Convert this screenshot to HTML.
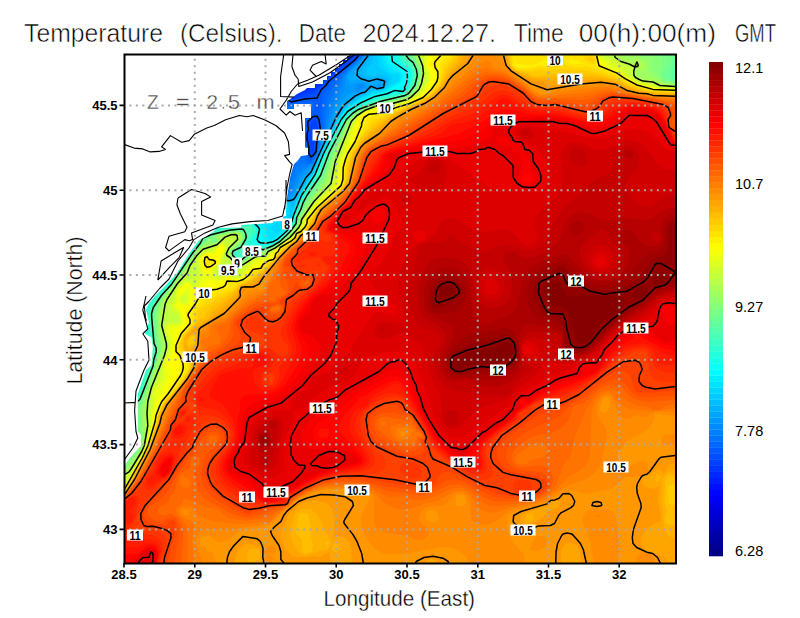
<!DOCTYPE html><html><head><meta charset="utf-8"><style>html,body{margin:0;padding:0;background:#fff;width:800px;height:618px;overflow:hidden}svg{display:block}text{font-family:"Liberation Sans",sans-serif}</style></head><body>
<svg width="800" height="618" viewBox="0 0 800 618">
<rect width="800" height="618" fill="#fff"/>
<defs><clipPath id="mc"><rect x="124" y="54.5" width="552" height="509"/></clipPath></defs>
<g clip-path="url(#mc)">
<rect x="124" y="54" width="552" height="510" fill="#0028ff"/>
<path fill="#0035ff" fill-rule="evenodd" d="M675.0 563.6 125.0 563.6 125.0 55.5 327.0 55.5 325.1 67.5 325.2 69.5 327.4 71.5 327.0 75.6 335.0 69.5 349.0 56.1 351.5 55.5 675.0 55.5 675.0 563.6ZM306.4 89.5 313.0 87.5 318.0 83.5 317.9 81.5 315.0 80.6 311.0 84.1 307.0 85.7 304.4 89.5 306.4 89.5Z"/>
<path fill="#0041ff" fill-rule="evenodd" d="M675.0 563.6 125.0 563.6 125.0 55.5 306.0 55.5 303.0 69.5 290.1 95.5 289.4 97.5 291.0 99.6 297.0 96.2 315.0 89.2 323.0 83.6 325.3 79.5 331.0 75.7 349.0 59.3 355.3 55.5 675.0 55.5 675.0 563.6Z"/>
<path fill="#004eff" fill-rule="evenodd" d="M675.0 563.6 125.0 563.6 125.0 55.5 292.9 55.5 291.7 67.5 287.0 90.8 288.4 99.5 291.0 100.6 315.0 92.4 319.2 87.5 323.0 85.0 326.8 79.5 340.5 69.5 356.5 55.5 675.0 55.5 675.0 563.6ZM313.4 151.5 314.2 143.5 317.6 135.5 317.3 121.5 315.0 120.2 312.3 121.5 310.4 125.5 310.4 131.5 308.5 135.5 308.7 141.5 310.8 145.5 311.0 152.2 313.4 151.5Z"/>
<path fill="#005aff" fill-rule="evenodd" d="M675.0 563.6 125.0 563.6 125.0 55.5 282.1 55.5 281.7 89.5 285.0 97.5 291.0 101.6 317.0 96.3 320.3 89.5 325.0 85.5 327.2 81.5 341.0 71.3 355.0 59.4 358.2 55.5 675.0 55.5 675.0 563.6ZM311.7 155.5 314.9 153.5 315.8 151.5 316.3 143.5 319.7 129.5 318.4 119.5 317.0 117.6 315.0 117.2 309.0 120.6 307.9 123.5 308.7 129.5 307.4 133.5 307.4 141.5 309.0 145.9 309.3 153.5 311.7 155.5Z"/>
<path fill="#0067ff" fill-rule="evenodd" d="M675.0 563.6 125.0 563.6 125.0 55.5 271.8 55.5 273.6 83.5 275.9 91.5 279.5 97.5 283.0 100.2 287.0 100.9 291.0 103.3 309.0 100.9 311.9 101.5 314.4 103.5 314.4 109.5 310.2 113.5 309.9 117.5 307.0 120.8 306.4 123.5 306.0 141.5 307.7 147.5 306.8 151.5 308.1 157.5 311.0 161.7 317.0 152.1 317.9 141.5 322.3 129.5 321.2 123.5 320.9 109.5 322.0 99.5 324.0 93.5 331.1 83.5 338.7 75.5 361.2 55.5 675.0 55.5 675.0 563.6Z"/>
<path fill="#0073ff" fill-rule="evenodd" d="M675.0 563.6 125.0 563.6 125.0 55.5 261.2 55.5 262.0 69.5 264.7 83.5 268.5 93.5 274.2 101.5 281.0 105.5 285.0 105.3 287.0 103.8 289.0 106.7 291.0 107.4 297.0 104.7 309.0 104.2 311.0 105.3 311.0 107.8 307.0 106.6 305.6 107.5 304.4 111.5 304.2 113.5 306.4 117.5 304.5 121.5 303.5 133.5 303.8 143.5 305.1 147.5 303.0 149.1 302.4 151.5 305.2 155.5 305.4 159.5 311.0 163.2 317.1 153.5 319.1 141.5 323.8 129.5 323.7 111.5 327.8 95.5 341.1 75.5 351.0 65.4 362.9 55.5 675.0 55.5 675.0 563.6Z"/>
<path fill="#0080ff" fill-rule="evenodd" d="M675.0 563.6 125.0 563.6 125.0 55.5 249.8 55.5 252.0 75.5 257.9 93.5 266.9 107.5 284.6 125.5 289.1 135.5 290.5 149.5 287.0 179.5 287.0 193.8 289.1 191.5 290.6 181.5 296.9 167.5 303.0 164.1 311.0 164.2 313.0 162.3 317.5 153.5 320.1 141.5 324.9 129.5 326.0 115.5 328.8 103.5 341.9 77.5 348.3 69.5 363.6 55.5 675.0 55.5 675.0 563.6Z"/>
<path fill="#008cff" fill-rule="evenodd" d="M675.0 563.5 125.0 563.6 125.0 55.5 237.0 55.5 239.4 75.5 245.5 93.5 253.1 107.5 270.0 131.5 275.7 143.5 278.7 155.5 282.6 185.5 284.5 193.5 287.0 198.0 291.0 191.5 294.1 181.5 298.1 173.5 303.0 168.4 312.8 163.5 318.0 153.5 320.5 143.5 326.2 129.5 330.7 107.5 341.0 87.5 344.4 75.5 364.3 55.5 675.0 55.5 675.0 563.5Z"/>
<path fill="#0098ff" fill-rule="evenodd" d="M675.0 563.5 125.0 563.6 125.0 55.5 222.2 55.5 224.3 73.5 231.2 93.5 239.9 109.5 263.5 145.5 269.0 157.8 278.7 187.5 284.6 197.5 287.0 199.2 292.0 193.5 300.7 175.5 304.0 171.5 313.0 164.5 318.4 153.5 321.0 144.6 327.5 129.5 333.1 109.5 344.9 89.5 345.6 75.5 365.0 55.5 675.0 55.5 675.0 563.5ZM361.5 89.5 364.1 87.5 365.0 85.1 363.0 83.6 357.0 84.4 355.6 87.5 357.0 91.0 361.5 89.5Z"/>
<path fill="#00a5ff" fill-rule="evenodd" d="M675.0 563.5 125.0 563.6 125.0 55.5 204.1 55.5 205.3 67.5 207.7 77.5 217.5 99.5 227.9 115.5 255.0 152.2 276.5 191.5 282.3 197.5 287.0 199.9 289.0 199.4 293.0 195.5 302.6 177.5 314.2 163.5 328.3 131.5 334.3 113.5 339.0 104.7 349.0 93.5 351.0 92.4 359.0 92.4 364.7 89.5 366.0 87.5 366.3 83.5 365.0 82.6 357.0 82.4 351.0 84.5 349.0 83.0 346.4 77.5 347.0 75.1 359.5 63.5 366.1 55.5 675.0 55.5 675.0 563.5ZM381.0 87.5 383.0 85.0 379.0 84.5 376.6 85.5 376.9 87.5 381.0 87.5Z"/>
<path fill="#00b1ff" fill-rule="evenodd" d="M675.0 563.5 125.0 563.6 125.0 55.5 179.7 55.5 180.8 65.5 184.5 77.5 190.5 89.5 199.7 103.5 212.6 119.5 245.0 155.8 271.2 191.5 277.8 197.5 287.0 200.5 292.2 199.5 294.4 197.5 305.4 177.5 311.0 171.1 328.9 133.5 335.3 117.5 340.9 107.5 351.0 97.4 365.6 91.5 369.9 85.5 370.5 83.5 365.0 80.8 357.0 79.6 351.0 80.2 348.7 77.5 349.0 76.1 353.0 77.8 354.8 73.5 355.1 69.5 361.0 64.2 367.4 55.5 675.0 55.5 675.0 563.5ZM383.3 87.5 384.3 83.5 383.0 81.4 377.0 79.4 372.0 81.5 373.7 87.5 377.0 88.5 383.3 87.5Z"/>
<path fill="#00beff" fill-rule="evenodd" d="M675.0 563.5 125.0 563.6 125.0 72.3 131.0 73.6 139.0 77.7 161.0 95.0 231.0 156.1 271.0 197.3 279.0 201.2 287.0 201.1 293.0 203.0 307.6 177.5 311.4 173.5 317.8 157.5 336.3 119.5 345.0 106.5 355.0 97.9 365.0 93.1 369.0 89.7 371.0 88.8 381.0 89.0 384.3 87.5 387.2 81.5 387.0 79.3 379.0 77.2 367.0 78.1 363.3 75.5 362.3 73.5 363.4 67.5 368.9 59.5 370.4 55.5 675.0 55.5 675.0 563.5Z"/>
<path fill="#00caff" fill-rule="evenodd" d="M675.0 563.5 125.0 563.6 125.0 116.6 137.0 117.8 149.0 120.9 177.0 133.7 201.0 148.1 223.0 163.3 267.0 200.5 277.0 204.4 283.0 203.8 287.0 201.8 289.7 203.5 293.0 208.8 297.9 195.5 312.4 173.5 324.1 145.5 331.1 133.5 337.3 119.5 345.0 108.2 357.0 98.1 371.0 90.8 383.0 89.3 387.9 83.5 388.9 79.5 387.0 76.8 383.0 74.8 379.0 73.7 373.0 75.7 367.0 74.7 367.0 67.5 371.8 63.5 373.6 55.5 675.0 55.5 675.0 563.5Z"/>
<path fill="#00d7ff" fill-rule="evenodd" d="M675.0 563.5 125.0 563.6 125.0 141.4 141.0 142.6 157.0 146.0 175.0 151.8 193.0 159.3 225.0 176.7 263.0 204.6 269.0 207.9 275.0 209.2 279.0 208.9 283.0 207.1 287.0 203.1 289.0 206.8 289.7 211.5 287.8 219.5 285.1 223.5 285.4 225.5 287.0 225.9 289.0 224.4 291.6 213.5 298.8 195.5 309.6 177.5 313.2 173.5 319.1 157.5 340.5 115.5 346.7 107.5 355.0 100.9 371.0 92.4 384.3 89.5 392.5 79.5 392.1 77.5 379.5 67.5 377.8 63.5 377.4 55.5 675.0 55.5 675.0 563.5Z"/>
<path fill="#00e3ff" fill-rule="evenodd" d="M675.0 563.5 125.0 563.6 125.0 161.5 147.0 162.9 171.0 167.0 193.0 173.1 215.0 181.9 239.0 195.0 253.0 204.4 267.0 215.7 275.8 219.5 276.9 221.5 271.0 227.2 270.8 229.5 277.0 234.1 281.0 230.4 285.1 229.5 289.2 225.5 292.5 213.5 299.5 195.5 310.3 177.5 313.7 173.5 319.7 157.5 332.4 133.5 338.5 119.5 345.7 109.5 361.0 98.6 373.0 93.1 385.0 90.1 393.0 83.5 399.0 81.0 399.8 77.5 399.0 74.6 391.0 73.4 388.6 71.5 382.6 63.5 381.1 55.5 675.0 55.5 675.0 563.5ZM285.0 216.6 283.1 215.5 287.0 210.1 287.0 215.2 285.0 216.6ZM283.0 218.3 282.1 217.5 283.0 215.6 283.9 217.5 283.0 218.3Z"/>
<path fill="#00efff" fill-rule="evenodd" d="M675.0 563.5 125.0 563.6 125.0 179.8 155.0 180.5 179.0 182.6 199.0 186.5 217.0 192.5 239.0 202.7 253.0 211.3 258.4 217.5 259.1 223.5 263.9 225.5 265.5 227.5 267.6 237.5 269.0 239.2 273.0 239.2 278.8 235.5 281.8 231.5 286.9 229.5 289.6 225.5 292.4 215.5 300.1 195.5 314.2 173.5 320.3 157.5 333.0 133.5 339.0 119.6 346.5 109.5 361.0 99.9 373.0 94.3 385.0 91.2 400.2 81.5 401.5 77.5 400.4 73.5 399.0 71.9 391.1 69.5 386.5 63.5 384.5 55.5 675.0 55.5 675.0 563.5Z"/>
<path fill="#00fcff" fill-rule="evenodd" d="M675.0 563.5 125.0 563.6 125.0 197.7 181.0 195.1 195.0 196.0 209.0 198.8 241.0 210.3 251.0 215.3 255.0 219.5 255.5 223.5 261.6 227.5 262.9 231.5 263.2 239.5 267.0 240.9 273.0 240.4 275.6 239.5 281.3 233.5 287.0 230.0 290.1 225.5 292.9 215.5 300.7 195.5 314.7 173.5 326.7 145.5 333.7 133.5 340.0 119.5 347.0 110.1 363.0 100.1 375.0 94.8 387.0 91.6 401.7 81.5 403.5 77.5 402.8 73.5 397.3 67.5 389.5 63.5 387.6 55.5 675.0 55.5 675.0 563.5Z"/>
<path fill="#09fff6" fill-rule="evenodd" d="M675.0 563.5 125.0 563.6 125.0 216.7 145.0 214.7 183.0 206.0 193.0 205.1 203.0 205.8 245.0 216.5 251.0 219.0 260.1 229.5 258.1 239.5 261.0 242.3 267.0 242.6 273.0 241.5 276.9 239.5 287.0 230.6 290.6 225.5 293.4 215.5 301.4 195.5 315.0 174.2 327.3 145.5 340.9 119.5 347.2 111.5 357.0 104.6 375.0 96.0 387.0 93.2 395.0 89.2 399.0 90.4 403.8 89.5 403.4 87.5 405.5 83.5 404.8 81.5 406.5 77.5 406.2 73.5 401.0 67.9 391.0 61.6 390.6 55.5 675.0 55.5 675.0 563.5Z"/>
<path fill="#16ffe9" fill-rule="evenodd" d="M675.0 563.5 125.0 563.6 125.0 240.1 137.0 238.7 147.0 235.8 157.0 231.2 181.0 217.2 191.0 213.8 199.0 212.9 207.0 213.8 223.0 219.0 241.0 219.4 251.0 221.6 258.4 229.5 255.2 239.5 261.0 245.5 277.0 240.2 288.6 229.5 291.0 225.5 293.9 215.5 302.0 195.5 315.0 175.5 325.9 149.5 343.2 117.5 351.0 109.5 363.0 102.3 377.0 96.5 405.0 91.0 409.0 81.5 409.3 71.5 407.8 69.5 395.8 61.5 394.1 55.5 675.0 55.5 675.0 563.5Z"/>
<path fill="#22ffdd" fill-rule="evenodd" d="M675.0 563.5 125.0 563.5 125.0 277.9 135.0 276.7 143.0 274.2 151.0 270.3 159.0 264.8 165.0 259.1 171.0 251.2 181.5 229.5 187.6 223.5 195.0 219.9 203.0 219.2 209.0 220.5 214.6 223.5 216.8 225.5 217.0 227.1 237.0 222.5 251.0 222.9 257.2 229.5 255.1 237.5 252.8 239.5 253.1 241.5 261.0 246.3 263.0 246.4 277.0 241.0 289.0 229.6 291.6 225.5 300.7 199.5 315.8 175.5 326.6 149.5 344.0 117.5 351.0 110.2 363.0 103.3 379.0 97.0 405.5 91.5 409.6 83.5 411.3 73.5 409.0 68.7 399.0 61.5 396.3 55.5 675.0 55.5 675.0 563.5Z"/>
<path fill="#2fffd0" fill-rule="evenodd" d="M675.0 563.5 125.0 563.5 125.0 332.0 145.0 335.8 147.4 335.5 147.8 325.5 145.5 319.5 147.5 305.5 150.2 301.5 171.0 279.8 171.7 273.5 175.7 269.5 179.0 263.5 183.2 261.5 183.7 257.5 187.2 255.5 187.7 251.5 193.2 247.5 193.3 245.5 195.0 243.5 193.0 245.0 191.0 244.9 188.7 239.5 188.3 235.5 190.7 229.5 195.0 225.8 201.0 223.9 207.0 224.4 211.0 226.3 215.0 230.7 221.0 228.1 235.0 226.8 239.0 224.4 245.0 225.3 251.0 223.9 256.3 229.5 256.3 231.5 253.2 237.5 248.4 243.5 248.1 247.5 249.0 248.4 253.0 248.1 257.0 245.6 263.0 247.2 273.0 243.7 277.3 241.5 287.7 231.5 292.1 225.5 294.8 215.5 301.3 199.5 316.5 175.5 327.2 149.5 344.8 117.5 353.0 109.5 363.0 104.2 379.0 97.9 403.0 93.1 406.2 91.5 410.6 83.5 412.3 73.5 410.8 69.5 401.4 61.5 398.3 55.5 675.0 55.5 675.0 563.5ZM137.4 393.5 137.2 391.5 139.0 389.8 143.7 375.5 143.9 371.5 143.0 370.9 135.0 372.6 131.5 377.5 136.7 389.5 136.5 393.5 137.0 394.2 137.4 393.5Z"/>
<path fill="#3bffc4" fill-rule="evenodd" d="M675.0 563.5 125.0 563.5 125.0 392.2 131.0 394.0 137.0 398.1 139.4 393.5 146.6 371.5 151.0 364.0 151.0 361.2 147.0 361.6 140.5 357.5 137.5 351.5 138.6 347.5 142.5 343.5 147.0 341.0 151.0 340.3 148.8 331.5 149.5 325.5 148.0 315.5 149.4 305.5 171.0 281.7 189.6 253.5 195.0 247.3 197.0 243.4 196.7 241.5 194.0 239.5 193.2 235.5 194.8 231.5 199.0 228.4 207.0 227.8 212.4 231.5 215.0 231.8 221.0 229.1 235.0 227.9 239.0 225.8 245.0 226.1 251.0 224.7 255.4 229.5 255.4 231.5 253.3 233.5 251.0 238.7 247.0 241.9 246.3 249.5 249.0 250.4 254.6 249.5 257.0 246.5 263.0 247.9 273.0 244.1 277.9 241.5 288.3 231.5 294.8 221.5 294.5 217.5 301.9 199.5 317.3 175.5 325.9 153.5 345.0 118.1 351.3 111.5 359.0 106.7 379.0 98.8 403.0 93.7 406.9 91.5 411.6 83.5 413.2 73.5 411.0 68.0 403.0 60.8 399.9 55.5 675.0 55.5 675.0 563.5Z"/>
<path fill="#48ffb7" fill-rule="evenodd" d="M675.0 563.5 125.0 563.5 125.0 397.7 137.2 399.5 140.4 393.5 147.8 371.5 151.4 365.5 151.4 359.5 148.0 357.5 145.6 351.5 146.6 347.5 151.0 342.8 151.9 339.5 150.1 331.5 149.1 315.5 150.9 305.5 173.0 280.2 195.6 247.5 197.8 243.5 196.0 235.5 199.0 231.8 207.0 230.4 215.0 232.5 221.0 230.0 251.0 225.5 253.9 229.5 253.9 231.5 251.7 233.5 250.5 237.5 246.3 241.5 244.3 249.5 247.0 251.7 255.0 250.4 257.0 247.5 259.0 246.8 263.0 248.4 273.0 244.6 278.6 241.5 288.8 231.5 295.1 223.5 294.9 217.5 302.5 199.5 319.1 173.5 326.5 153.5 345.0 119.0 352.2 111.5 359.0 107.3 379.0 99.7 405.0 93.8 411.7 85.5 413.8 79.5 413.9 71.5 411.0 66.0 403.7 59.5 401.3 55.5 675.0 55.5 675.0 563.5ZM240.6 257.5 241.8 253.5 241.0 251.5 235.0 252.6 234.4 253.5 238.2 257.5 240.6 257.5ZM153.7 353.5 153.0 347.4 152.2 351.5 153.0 355.3 153.7 353.5Z"/>
<path fill="#54ffab" fill-rule="evenodd" d="M675.0 563.5 125.0 563.5 125.0 402.0 138.4 399.5 148.1 373.5 152.2 365.5 152.4 359.5 150.6 355.5 151.0 354.4 153.0 356.7 155.0 351.5 154.4 347.5 151.5 345.5 152.7 339.5 150.1 313.5 152.2 305.5 171.0 283.8 196.2 247.5 198.6 243.5 197.6 237.5 199.0 234.2 209.0 232.3 215.0 233.1 229.0 229.3 249.0 226.7 250.0 227.5 248.6 231.5 248.6 235.5 243.0 247.9 241.0 249.6 234.1 251.5 233.0 253.2 239.0 259.6 241.0 258.9 245.0 253.9 255.0 251.3 258.5 247.5 263.0 248.9 277.0 242.9 289.0 232.0 295.5 223.5 295.7 217.5 299.8 209.5 303.0 199.9 318.0 177.5 321.9 169.5 327.2 153.5 345.4 119.5 353.0 111.6 359.0 108.0 381.0 100.1 405.0 94.5 411.6 87.5 414.6 81.5 415.0 71.1 412.4 65.5 402.5 55.5 675.0 55.5 675.0 563.5Z"/>
<path fill="#60ff9f" fill-rule="evenodd" d="M675.0 563.5 125.0 563.5 125.0 406.7 131.0 404.9 139.5 399.5 152.9 365.5 153.7 357.5 155.3 355.5 156.0 351.5 155.6 347.5 153.3 343.5 153.6 337.5 151.0 315.5 153.7 305.5 161.1 295.5 169.0 287.5 198.3 245.5 200.3 241.5 199.6 237.5 201.0 235.5 215.0 233.7 231.0 229.7 241.0 228.5 244.5 229.5 246.5 237.5 243.0 245.3 241.0 247.8 233.0 251.3 232.4 253.5 233.0 255.5 237.1 259.5 239.0 260.1 241.8 259.5 245.0 256.2 256.3 251.5 259.0 248.0 263.0 249.4 277.0 243.3 289.0 232.7 296.0 223.5 296.5 217.5 303.0 202.1 320.1 175.5 329.0 152.0 346.2 119.5 353.0 112.6 359.0 108.9 381.0 100.9 405.0 95.2 408.1 93.5 414.4 85.5 416.9 75.5 415.9 69.5 413.0 63.3 404.4 55.5 675.0 55.5 675.0 563.5Z"/>
<path fill="#6dff92" fill-rule="evenodd" d="M675.0 563.5 125.0 563.5 125.0 414.2 131.0 410.8 136.1 403.5 140.6 399.5 153.7 365.5 156.9 351.5 152.6 317.5 154.5 307.5 162.1 295.5 169.8 287.5 192.8 253.5 199.0 245.6 209.0 236.6 217.0 233.5 231.0 230.3 241.0 229.8 243.0 230.7 245.5 235.5 244.9 239.5 241.0 246.1 233.0 250.6 231.9 253.5 232.5 255.5 236.4 259.5 239.0 260.6 243.0 259.5 257.0 252.0 259.0 248.9 263.0 250.2 273.0 246.0 279.0 242.6 289.0 233.4 296.4 223.5 297.3 217.5 307.0 197.2 320.6 177.5 329.7 153.5 347.0 119.5 357.0 110.8 369.0 105.6 406.1 95.5 409.4 93.5 415.0 86.6 416.6 83.5 418.2 73.5 415.0 63.1 409.2 55.5 675.0 55.5 675.0 65.9 672.8 67.5 670.2 75.5 671.0 78.6 675.0 79.5 675.0 563.5Z"/>
<path fill="#79ff86" fill-rule="evenodd" d="M675.0 563.5 125.0 563.5 125.0 464.5 127.2 461.5 126.7 457.5 131.0 455.7 135.8 449.5 134.7 447.5 135.8 439.5 137.0 435.6 139.2 433.5 137.2 429.5 136.7 425.5 137.8 405.5 143.5 395.5 154.5 365.5 157.8 353.5 158.0 347.5 154.1 317.5 156.0 307.5 163.1 295.5 170.6 287.5 193.0 254.1 199.0 246.4 209.0 237.8 217.0 234.1 231.0 230.9 239.0 230.5 241.7 231.5 244.6 235.5 244.2 239.5 240.0 245.5 233.0 249.8 231.3 253.5 235.8 259.5 239.0 261.1 244.4 259.5 259.0 251.4 263.0 250.9 273.0 246.5 279.0 243.1 287.6 235.5 296.9 223.5 298.2 217.5 306.1 201.5 322.3 177.5 332.1 151.5 347.8 119.5 357.0 111.6 369.0 106.1 407.8 95.5 415.5 87.5 417.4 83.5 419.3 73.5 415.4 61.5 411.3 55.5 675.0 55.5 671.0 60.2 663.0 73.5 663.7 77.5 665.0 78.5 675.0 82.1 675.0 563.5ZM215.9 241.5 215.0 239.4 212.6 241.5 215.9 241.5Z"/>
<path fill="#86ff79" fill-rule="evenodd" d="M675.0 563.5 125.0 563.5 125.0 467.6 141.0 446.0 141.6 435.5 139.4 427.5 139.3 409.5 159.0 353.5 159.4 347.5 156.5 329.5 155.6 315.5 156.7 309.5 160.2 301.5 164.0 295.5 171.3 287.5 197.0 249.7 209.0 238.5 211.0 238.3 212.3 239.5 211.3 241.5 215.0 242.5 217.2 241.5 217.3 239.5 211.9 237.5 217.0 234.6 231.2 231.5 241.0 232.1 243.8 235.5 243.5 239.5 239.0 245.1 232.5 249.5 230.8 253.5 235.1 259.5 239.0 261.7 243.0 260.9 259.0 252.2 263.0 251.7 273.0 247.0 279.1 243.5 288.4 235.5 297.6 223.5 300.1 215.5 308.8 199.5 323.0 179.5 332.5 153.5 348.6 119.5 357.0 112.2 369.0 106.6 391.0 100.3 397.0 99.7 409.0 95.7 416.3 87.5 420.0 73.5 416.4 61.5 413.0 55.5 662.1 55.5 662.0 65.5 660.7 73.5 661.4 77.5 663.0 79.9 675.0 82.9 675.0 563.5Z"/>
<path fill="#92ff6d" fill-rule="evenodd" d="M675.0 563.5 125.0 563.5 125.0 468.7 141.0 448.3 141.8 445.5 142.6 435.5 141.2 423.5 141.5 407.5 160.6 351.5 160.7 345.5 157.7 329.5 157.0 317.5 158.0 309.5 161.1 301.5 171.9 287.5 194.7 253.5 201.0 246.2 205.0 243.4 207.1 243.5 206.7 241.5 209.0 239.1 211.1 239.5 210.3 241.5 211.0 242.8 215.0 243.1 217.9 241.5 218.1 239.5 213.5 237.5 217.0 235.1 233.0 231.9 239.0 232.1 241.0 233.1 243.5 237.5 242.7 239.5 239.0 243.9 231.7 249.5 230.0 253.5 234.2 259.5 239.0 262.4 243.0 261.6 259.0 252.9 263.0 252.4 273.0 247.5 279.6 243.5 289.0 235.7 298.3 223.5 299.9 217.5 310.2 199.5 323.8 181.5 332.2 157.5 349.0 119.9 357.0 112.8 369.0 107.1 391.0 100.8 397.0 100.3 409.0 96.2 417.0 87.7 420.7 73.5 419.0 65.8 414.1 55.5 652.5 55.5 653.0 61.5 651.5 67.5 652.2 71.5 657.0 74.1 660.7 79.5 663.0 81.2 675.0 83.7 675.0 563.5Z"/>
<path fill="#9fff60" fill-rule="evenodd" d="M675.0 563.5 125.0 563.5 125.0 469.9 128.1 467.5 141.0 449.5 142.6 445.5 143.7 435.5 142.8 413.5 143.6 405.5 162.3 349.5 162.0 343.5 158.9 329.5 158.3 319.5 158.7 311.5 162.0 301.5 199.0 249.0 205.0 244.7 217.0 243.0 219.0 239.5 215.9 237.5 217.6 235.5 235.0 232.5 239.0 232.8 241.9 235.5 242.7 237.5 241.0 240.7 231.0 249.2 229.3 253.5 233.2 259.5 239.0 263.0 243.0 262.3 255.0 255.5 263.0 253.1 273.0 248.0 289.0 236.4 297.9 225.5 300.8 217.5 311.0 200.5 325.8 181.5 332.7 159.5 349.0 120.8 357.0 113.4 365.0 109.2 377.0 104.8 405.0 98.6 410.7 95.5 417.0 88.9 419.4 83.5 421.5 73.5 419.9 65.5 415.3 55.5 639.5 55.5 639.0 58.0 641.0 59.5 645.0 59.8 646.8 61.5 648.2 71.5 651.0 75.2 663.0 82.4 675.0 84.6 675.0 563.5ZM209.0 242.6 209.0 240.6 209.0 242.6Z"/>
<path fill="#abff54" fill-rule="evenodd" d="M675.0 563.5 125.0 563.5 125.0 471.4 129.0 468.4 141.0 450.8 143.3 445.5 144.8 435.5 144.7 411.5 145.8 401.5 150.5 385.5 162.3 355.5 163.8 349.5 163.7 343.5 160.1 329.5 159.7 323.5 160.0 311.5 162.9 301.5 199.0 250.2 203.0 246.8 217.0 243.7 220.2 239.5 219.6 237.5 222.3 235.5 233.0 233.1 238.7 233.5 240.9 235.5 240.8 239.5 229.7 249.5 228.3 253.5 233.0 260.1 239.0 263.9 243.0 263.0 252.0 257.5 259.0 254.7 264.1 255.5 264.1 253.5 266.5 251.5 275.0 247.3 289.0 237.2 298.9 225.5 301.0 218.6 311.8 201.5 328.0 181.5 334.0 159.5 349.0 122.1 351.0 119.5 358.0 113.5 371.0 107.1 405.0 99.2 411.0 96.0 417.5 89.5 420.2 83.5 422.2 73.5 421.0 65.5 416.3 55.5 620.7 55.5 622.3 57.5 628.2 59.5 633.0 60.2 635.0 58.7 643.0 61.6 645.0 62.7 645.8 69.5 637.0 71.5 637.0 75.5 641.0 77.3 643.0 79.5 647.0 79.6 651.0 78.2 662.1 83.5 675.0 85.4 675.0 563.5Z"/>
<path fill="#b7ff48" fill-rule="evenodd" d="M675.0 563.5 125.0 563.5 125.0 473.3 130.0 469.5 141.0 452.1 144.0 445.5 147.1 425.5 146.3 413.5 147.0 401.5 151.0 387.3 163.9 355.5 165.8 347.5 165.6 343.5 161.0 327.5 161.0 321.7 161.8 311.5 166.8 297.5 187.0 271.4 189.4 265.5 199.4 251.5 203.0 248.6 217.0 244.5 225.0 236.4 233.0 233.9 238.8 235.5 239.0 239.5 230.1 247.5 226.9 253.5 233.0 260.9 237.0 264.7 239.0 265.2 245.0 263.1 253.0 257.6 257.0 256.1 265.0 256.1 267.7 251.5 275.0 247.9 289.5 237.5 299.0 226.7 301.3 219.5 313.3 201.5 329.7 183.5 335.0 160.5 351.0 121.1 356.6 115.5 365.0 110.1 377.0 105.6 387.0 104.6 406.2 99.5 411.0 96.8 418.5 89.5 422.8 77.5 423.0 73.5 422.1 65.5 417.7 55.5 616.3 55.5 617.1 57.5 621.0 60.7 633.0 65.0 635.0 64.4 637.0 61.0 639.5 63.5 641.3 67.5 637.0 68.7 634.9 71.5 635.0 75.5 637.0 77.5 643.0 80.7 649.0 81.5 651.0 80.5 661.0 85.0 675.0 86.2 675.0 563.5Z"/>
<path fill="#c4ff3b" fill-rule="evenodd" d="M675.0 563.5 125.0 563.5 125.0 476.2 129.0 473.8 131.0 471.2 144.8 445.5 148.9 425.5 148.0 411.5 150.6 393.5 167.1 349.5 167.1 341.5 164.1 333.5 163.0 325.4 167.3 315.5 166.7 309.5 167.7 303.5 174.5 289.5 179.0 283.0 188.7 273.5 191.0 265.6 193.6 263.5 197.8 255.5 201.0 251.8 205.0 249.5 215.0 246.4 226.3 237.5 230.7 235.5 235.4 235.5 235.7 239.5 227.0 249.4 224.8 257.5 229.0 257.4 235.0 263.4 235.0 268.7 245.0 264.6 253.0 258.2 257.0 257.0 265.0 256.8 268.7 251.5 275.0 248.5 290.5 237.5 299.0 227.9 303.2 217.5 315.0 201.5 332.4 183.5 336.3 161.5 350.2 125.5 355.5 117.5 360.2 113.5 371.0 107.9 377.0 106.0 389.0 105.4 393.0 103.4 407.0 100.1 419.7 89.5 422.4 83.5 424.3 75.5 423.0 64.2 420.1 55.5 603.0 55.5 609.0 56.3 617.0 59.8 621.0 62.8 629.1 65.5 631.5 67.5 632.4 75.5 639.0 80.6 651.0 82.5 659.0 86.1 675.0 87.0 675.0 563.5Z"/>
<path fill="#d0ff2f" fill-rule="evenodd" d="M675.0 563.5 125.0 563.5 125.0 483.9 127.6 477.5 143.0 451.6 147.0 439.1 149.5 427.5 149.6 411.5 152.7 389.5 159.7 377.5 163.6 359.5 166.5 355.5 168.4 349.5 168.5 341.5 165.4 333.5 164.9 325.5 167.0 322.6 176.2 323.5 179.4 321.5 179.0 315.8 171.8 311.5 170.3 307.5 170.8 303.5 173.9 297.5 176.0 289.5 183.0 281.0 191.0 279.3 193.9 275.5 197.3 273.5 197.9 271.5 196.7 261.5 201.0 253.5 205.0 250.8 211.0 249.9 221.0 242.8 225.0 242.1 226.9 243.5 227.2 245.5 222.8 257.5 222.5 265.5 221.0 267.4 216.5 269.5 216.1 273.5 217.0 274.6 221.0 274.6 223.1 273.5 225.0 269.8 227.0 268.9 231.0 270.7 233.8 275.5 239.0 275.9 241.5 269.5 252.0 259.5 257.0 257.8 265.0 257.6 267.5 255.5 269.6 251.5 275.0 249.1 291.3 237.5 299.0 229.1 302.3 223.5 304.0 217.5 315.0 203.1 333.9 183.5 337.7 161.5 351.5 125.5 356.6 117.5 365.0 111.0 377.0 106.4 385.0 107.7 393.0 104.2 407.0 101.1 417.5 93.5 421.0 89.5 424.7 81.5 425.7 75.5 422.2 55.5 601.0 55.5 617.0 61.3 623.0 66.5 628.3 67.5 629.5 69.5 630.1 75.5 637.9 81.5 651.0 83.8 660.7 87.5 675.0 87.7 675.0 563.5ZM194.1 283.5 193.0 280.3 192.0 281.5 193.0 284.5 194.1 283.5ZM183.5 301.5 183.8 297.5 183.0 297.1 182.8 301.5 183.5 301.5Z"/>
<path fill="#ddff22" fill-rule="evenodd" d="M675.0 563.5 125.0 563.5 125.0 485.3 143.0 452.6 147.4 439.5 150.5 425.5 153.9 389.5 155.0 386.7 159.0 383.5 161.5 379.5 164.3 359.5 167.9 355.5 169.6 349.5 170.0 341.5 166.6 333.5 166.4 325.5 169.0 324.0 179.0 324.2 180.6 321.5 180.1 315.5 174.1 309.5 173.0 305.5 173.3 303.5 176.4 299.5 176.1 293.5 177.4 289.5 181.0 284.5 185.0 281.6 189.0 281.7 193.0 286.6 195.0 286.7 200.1 273.5 198.3 261.5 199.4 257.5 203.0 253.2 213.0 250.5 221.0 243.7 223.0 243.3 225.0 244.3 225.8 247.5 220.0 265.5 215.9 267.5 214.6 269.5 214.2 275.5 217.0 277.0 221.0 276.9 227.0 274.1 229.0 274.2 233.0 277.5 239.0 277.7 241.0 276.6 244.2 269.5 250.5 263.5 253.0 259.5 265.0 258.5 268.2 255.5 270.4 251.5 275.0 249.7 279.5 245.5 292.1 237.5 302.0 225.5 304.7 217.5 317.0 202.1 335.0 183.5 339.1 161.5 351.9 127.5 357.0 117.9 365.0 111.5 377.0 106.8 385.0 108.5 395.0 104.4 407.0 101.8 417.0 95.2 422.5 89.5 425.7 83.5 427.2 77.5 424.8 65.5 424.1 55.5 600.3 55.5 605.0 59.0 616.0 63.5 625.0 73.9 637.0 81.8 651.0 84.8 659.0 87.8 675.0 88.1 675.0 563.5ZM184.1 303.5 186.1 301.5 186.4 299.5 185.0 294.8 182.2 295.5 181.0 297.5 181.0 301.5 184.1 303.5Z"/>
<path fill="#e9ff16" fill-rule="evenodd" d="M675.0 563.5 125.0 563.5 125.0 486.0 145.7 447.5 151.3 425.5 152.3 413.5 155.4 399.5 155.0 389.5 162.5 383.5 165.0 377.5 165.4 373.5 163.8 367.5 164.4 361.5 165.0 359.5 169.4 355.5 171.4 343.5 171.0 337.5 168.2 333.5 167.6 327.5 169.0 325.3 179.0 325.2 181.3 323.5 182.0 321.5 181.3 315.5 175.0 305.5 175.1 303.5 177.9 299.5 177.3 293.5 178.6 289.5 183.0 284.2 187.0 282.2 189.0 282.5 193.0 287.8 195.0 287.9 197.8 285.5 201.9 277.5 199.6 261.5 200.6 257.5 205.0 253.1 213.0 251.9 221.0 244.4 223.0 244.1 224.6 245.5 224.9 247.5 219.7 263.5 215.0 267.0 213.6 269.5 212.4 273.5 213.0 276.9 217.0 278.9 227.0 276.4 233.0 278.3 239.0 278.5 241.5 277.5 245.0 271.2 252.4 263.5 253.0 261.5 255.0 260.2 265.0 259.3 267.0 258.0 271.0 251.9 275.0 250.4 280.0 245.5 292.8 237.5 304.2 223.5 304.1 219.5 305.4 217.5 317.0 203.4 331.7 189.5 336.3 183.5 340.4 161.5 357.0 118.7 362.6 113.5 371.0 109.2 379.0 107.2 385.0 109.4 395.0 104.9 407.0 102.3 418.3 95.5 424.2 89.5 427.5 83.5 429.0 77.5 428.3 71.5 425.5 65.5 426.0 55.5 599.5 55.5 601.0 57.9 607.0 62.7 609.0 66.1 611.4 67.5 617.0 68.2 625.0 75.4 637.0 82.4 659.0 88.3 675.0 88.5 675.0 563.5ZM186.6 303.5 188.3 297.5 186.8 293.5 188.9 289.5 187.0 288.0 186.0 289.5 186.8 291.5 180.7 295.5 180.0 297.5 181.0 303.6 185.0 304.4 186.6 303.5Z"/>
<path fill="#f6ff09" fill-rule="evenodd" d="M675.0 563.5 125.0 563.5 125.0 486.6 146.1 447.5 151.2 429.5 155.7 405.5 158.6 397.5 163.0 393.7 164.2 387.5 167.8 379.5 168.5 373.5 164.9 367.5 164.9 363.5 166.5 359.5 170.1 357.5 171.4 355.5 173.2 339.5 172.6 329.5 173.6 327.5 181.0 325.8 183.5 321.5 181.8 313.5 176.5 305.5 176.3 303.5 178.6 301.5 178.2 293.5 179.7 289.5 187.0 282.9 189.0 283.3 193.0 288.6 195.0 288.6 200.7 285.5 207.0 279.8 217.0 281.2 227.0 278.1 237.0 279.4 241.0 278.5 251.0 266.6 260.4 261.5 267.0 259.3 271.0 253.4 277.0 249.8 280.5 245.5 293.0 238.1 295.6 233.5 299.0 231.2 305.0 223.8 304.8 219.5 306.2 217.5 317.0 204.6 333.2 189.5 337.7 183.5 340.9 163.5 351.2 139.5 356.9 119.5 363.5 113.5 371.0 109.7 379.0 108.2 383.0 110.3 387.0 109.8 395.0 105.5 409.0 102.0 422.5 93.5 428.5 85.5 430.8 79.5 430.1 71.5 426.3 65.5 428.2 55.5 598.8 55.5 601.0 59.5 609.0 67.8 617.0 69.6 625.0 76.3 637.0 83.0 659.0 88.8 675.0 89.0 675.0 563.5ZM209.0 275.5 207.0 276.5 202.3 269.5 200.8 261.5 201.6 257.5 205.0 254.1 209.0 252.9 217.0 254.5 217.7 253.5 215.1 251.5 220.5 245.5 223.0 245.0 224.1 247.5 218.7 263.5 213.8 267.5 209.0 275.5ZM188.5 303.5 190.3 299.5 190.6 295.5 190.0 289.5 187.0 286.8 185.6 287.5 184.2 291.5 179.4 295.5 179.0 299.5 181.0 304.5 185.0 305.4 188.5 303.5Z"/>
<path fill="#fffc00" fill-rule="evenodd" d="M675.0 563.5 125.0 563.5 125.0 487.1 146.5 447.5 157.0 406.6 160.1 399.5 164.0 395.5 172.2 377.5 172.6 369.5 168.8 363.5 173.5 357.5 173.8 345.5 177.5 331.5 183.9 325.5 185.6 321.5 182.6 311.5 178.3 305.5 178.8 303.5 185.0 307.0 187.0 307.1 189.4 305.5 193.4 297.5 193.6 293.5 191.7 289.5 201.0 288.1 209.0 284.8 219.0 283.6 227.0 279.4 237.0 280.3 241.0 279.3 243.8 277.5 251.9 267.5 267.0 260.5 281.0 245.5 293.0 238.8 296.0 233.5 299.5 231.5 305.0 225.0 305.7 219.5 306.9 217.5 319.0 203.8 338.3 185.5 340.5 179.5 342.1 163.5 345.8 153.5 352.2 141.5 354.2 135.5 354.5 129.5 358.0 119.5 361.9 115.5 368.2 111.5 373.0 110.4 387.0 110.9 395.0 106.4 409.0 102.7 423.0 94.8 429.4 87.5 433.2 79.5 433.5 75.5 432.4 71.5 427.0 65.4 427.0 62.9 430.8 55.5 597.9 55.5 601.0 62.1 609.0 68.7 617.0 70.8 625.0 77.1 635.0 82.8 655.0 88.6 675.0 89.4 675.0 563.5ZM209.0 272.7 207.0 273.0 203.0 268.6 202.0 263.5 202.6 257.5 205.0 255.1 211.0 253.8 215.0 256.4 217.0 256.2 218.9 253.5 217.3 251.5 218.5 249.5 221.0 246.4 223.0 246.5 217.7 263.5 214.5 265.5 209.0 272.7ZM189.0 285.9 185.3 285.5 187.0 284.2 189.0 285.9ZM181.0 292.9 180.8 289.5 183.0 287.4 183.5 289.5 181.0 292.9Z"/>
<path fill="#ffef00" fill-rule="evenodd" d="M675.0 563.5 125.0 563.5 125.0 487.9 142.3 457.5 147.8 445.5 159.1 405.5 173.3 383.5 179.4 371.5 180.0 363.5 178.1 357.5 175.0 352.4 175.2 345.5 179.9 333.5 188.1 323.5 188.0 319.5 185.3 313.5 185.8 311.5 191.0 307.7 195.3 301.5 197.7 295.5 196.8 291.5 221.0 286.1 227.0 280.6 237.0 281.2 241.0 280.1 247.6 275.5 253.0 268.5 257.0 267.4 261.0 267.8 261.1 265.5 262.7 263.5 269.0 259.8 273.0 259.4 275.1 253.5 277.5 251.5 279.7 247.5 291.0 241.0 295.0 237.5 296.3 233.5 300.4 231.5 305.0 226.4 306.6 223.5 306.8 219.5 317.0 207.0 340.2 185.5 342.1 179.5 343.0 164.9 347.1 153.5 354.2 141.5 356.8 133.5 356.4 129.5 358.7 125.5 359.0 119.9 367.0 113.4 387.0 112.0 395.0 107.3 409.0 103.4 423.0 96.7 431.8 87.5 436.2 79.5 435.8 71.5 429.0 65.5 428.6 63.5 433.1 59.5 435.4 55.5 597.0 55.5 600.8 65.5 609.0 69.8 617.0 72.3 625.0 78.2 637.0 84.6 653.0 89.1 675.0 90.0 675.0 563.5ZM209.0 269.8 207.0 270.6 205.0 268.7 203.4 263.5 204.2 257.5 207.0 255.7 209.0 257.7 215.0 259.7 216.9 261.5 216.2 263.5 209.0 269.8Z"/>
<path fill="#ffe300" fill-rule="evenodd" d="M675.0 563.5 125.0 563.5 125.0 488.8 142.7 457.5 148.3 445.5 156.6 415.5 161.8 403.5 172.0 389.5 175.0 387.5 187.0 369.2 187.6 365.5 186.1 359.5 177.9 351.5 176.8 347.5 181.3 335.5 193.0 321.8 191.3 315.5 193.4 309.5 205.0 295.7 227.0 287.8 229.5 285.5 226.6 283.5 228.1 281.5 231.8 281.5 235.0 283.0 244.9 279.5 255.0 270.1 261.0 268.8 263.2 265.5 269.0 261.3 274.1 259.5 275.3 255.5 279.0 251.5 281.0 247.5 293.0 240.1 295.6 237.5 297.0 233.2 299.0 233.0 303.7 229.5 307.4 223.5 308.3 219.5 317.4 207.5 341.0 187.0 343.8 179.5 344.1 167.5 347.8 155.5 357.6 137.5 363.2 129.5 367.2 119.5 373.0 116.1 389.0 112.4 397.0 108.0 409.0 104.1 424.0 97.5 432.5 89.5 438.9 81.5 439.6 63.5 443.1 59.5 447.0 57.2 452.0 55.5 514.6 55.5 514.6 65.5 516.6 67.5 529.0 67.9 532.3 67.5 533.0 66.3 535.0 67.1 539.0 64.7 545.0 65.7 555.1 63.5 545.0 58.5 542.0 61.5 533.0 65.3 517.0 63.9 515.1 61.5 515.3 55.5 595.8 55.5 597.3 61.5 595.9 65.5 598.0 67.5 617.0 74.3 635.0 84.8 651.0 89.7 675.0 90.7 675.0 563.5ZM583.9 63.5 573.0 59.0 569.0 59.6 566.3 61.5 571.0 64.2 583.9 63.5ZM213.0 263.9 211.0 264.8 207.0 264.5 205.9 261.5 207.0 258.8 209.0 260.6 213.5 261.5 213.0 263.9Z"/>
<path fill="#ffd700" fill-rule="evenodd" d="M675.0 563.5 125.0 563.5 125.0 489.9 148.8 445.5 157.0 419.8 157.3 415.5 162.0 405.5 165.4 399.5 171.0 394.3 185.0 375.7 189.2 367.5 189.0 361.1 187.0 357.2 179.0 349.5 178.7 345.5 182.6 335.5 193.8 323.5 194.9 313.5 197.0 309.2 208.0 299.5 233.0 288.5 237.0 284.2 247.0 279.5 255.0 272.5 261.5 269.5 269.0 262.5 275.0 259.6 276.0 255.5 281.5 249.5 293.0 240.8 299.0 233.7 305.0 229.5 309.8 219.5 318.2 207.5 340.0 189.5 343.1 185.5 345.2 179.5 345.6 167.5 350.1 153.5 371.0 121.2 375.0 118.6 387.0 114.6 425.4 97.5 439.0 84.2 443.4 65.5 446.6 61.5 454.1 55.5 511.7 55.5 512.7 65.5 517.0 69.2 529.0 69.6 541.0 66.9 545.0 68.1 549.0 67.7 563.0 63.3 571.0 67.1 581.0 67.2 587.0 66.0 589.0 67.6 615.0 75.3 629.5 83.5 643.0 88.6 657.0 91.1 675.0 91.5 675.0 563.5ZM595.0 64.0 591.0 64.1 585.8 61.5 584.1 59.5 583.2 55.5 594.2 55.5 595.8 59.5 595.0 64.0ZM561.0 59.7 559.0 61.0 557.0 60.8 556.2 59.5 559.0 56.0 562.6 57.5 562.1 59.5 561.0 59.7Z"/>
<path fill="#ffca00" fill-rule="evenodd" d="M675.0 563.5 125.0 563.5 125.0 491.1 149.3 445.5 157.2 421.5 157.8 415.5 163.7 403.5 167.0 398.5 171.1 395.5 177.4 387.5 185.9 375.5 190.0 367.5 190.3 363.5 189.2 359.5 180.6 349.5 180.4 343.5 183.6 335.5 195.0 323.5 199.0 310.4 215.9 299.5 235.0 289.8 237.5 285.5 249.2 279.5 263.0 269.5 269.2 263.5 275.0 260.1 277.0 255.0 289.0 243.9 295.0 239.7 299.0 234.5 305.7 229.5 318.9 207.5 341.1 189.5 346.1 179.5 347.0 167.5 351.4 153.5 361.0 138.0 371.0 125.6 379.0 119.5 423.0 100.0 429.1 95.5 439.2 85.5 445.8 67.5 455.6 55.5 510.4 55.5 511.9 65.5 517.0 70.1 531.0 71.4 537.0 70.6 539.0 69.3 545.0 71.1 561.0 69.3 587.0 70.4 613.0 76.4 630.9 85.5 643.0 89.5 655.0 91.7 675.0 92.3 675.0 563.5ZM593.0 62.1 587.4 59.5 587.6 57.5 589.0 56.2 593.0 57.4 593.8 61.5 593.0 62.1Z"/>
<path fill="#ffbe00" fill-rule="evenodd" d="M675.0 563.5 125.0 563.5 125.0 491.9 149.8 445.5 157.7 421.5 158.4 415.5 164.3 403.5 178.1 387.5 186.7 375.5 190.8 367.5 191.2 363.5 190.1 359.5 182.0 347.5 182.3 341.5 185.0 335.0 201.0 318.1 205.2 317.5 205.9 313.5 211.1 307.5 235.0 291.4 239.2 285.5 249.0 281.2 263.0 270.9 270.3 263.5 275.0 260.6 277.5 255.5 287.7 245.5 295.0 240.5 299.0 235.4 306.5 229.5 319.0 208.2 341.0 190.3 344.6 185.5 347.0 179.5 348.4 167.5 352.7 153.5 361.0 140.3 375.0 125.4 397.0 112.0 423.0 100.6 432.7 93.5 440.4 85.5 447.0 70.3 456.0 59.5 457.6 55.5 509.2 55.5 510.2 63.5 513.0 68.1 517.0 70.8 529.0 73.4 533.0 75.7 539.0 76.2 545.0 74.4 561.0 73.5 595.0 74.4 615.0 78.8 629.0 86.0 641.0 89.9 655.0 92.6 675.0 93.1 675.0 483.6 668.2 485.5 667.5 491.5 668.5 503.5 671.0 505.1 675.0 505.6 675.0 563.5ZM194.0 343.5 195.1 337.5 193.0 335.4 189.0 338.5 187.8 341.5 189.0 344.8 194.0 343.5Z"/>
<path fill="#ffb100" fill-rule="evenodd" d="M675.0 563.5 125.0 563.5 125.0 492.4 133.9 477.5 150.3 445.5 158.3 421.5 159.0 415.5 164.9 403.5 178.8 387.5 187.5 375.5 191.7 367.5 192.1 363.5 190.2 357.5 183.6 347.5 184.3 337.5 185.7 335.5 199.0 323.1 207.4 319.5 212.4 311.5 233.0 295.4 240.7 285.5 251.0 281.8 263.0 272.3 275.0 261.2 278.7 255.5 288.3 245.5 295.0 241.3 299.4 235.5 307.0 229.8 319.0 209.1 327.0 201.5 330.8 199.5 341.0 190.9 345.4 185.5 348.0 179.5 350.2 165.5 355.0 151.5 363.0 139.9 377.0 127.0 386.6 119.5 396.6 113.5 425.0 100.2 433.0 94.5 441.7 85.5 447.0 74.4 457.8 61.5 460.3 55.5 507.9 55.5 509.9 65.5 513.0 69.1 517.0 71.6 533.0 77.2 599.0 77.1 617.0 81.0 627.0 86.6 639.0 90.5 655.0 93.4 675.0 93.9 675.0 475.4 669.0 475.1 666.2 477.5 665.1 481.5 664.4 499.5 665.0 505.5 667.3 511.5 665.0 516.7 665.1 521.5 667.0 524.3 675.0 525.4 675.0 563.5ZM190.2 347.5 195.7 343.5 196.2 337.5 195.0 334.5 191.0 335.0 186.5 339.5 187.0 345.4 189.0 348.0 190.2 347.5ZM305.3 553.5 311.5 551.5 313.1 545.5 311.1 537.5 310.5 525.5 308.5 515.5 307.0 513.1 303.0 512.7 299.3 513.5 298.3 515.5 295.7 531.5 297.0 534.8 301.9 539.5 302.4 551.5 305.3 553.5ZM327.1 547.5 328.5 541.5 327.0 541.2 325.5 543.5 327.1 547.5ZM335.4 547.5 335.0 545.6 335.0 548.5 335.4 547.5Z"/>
<path fill="#ffa500" fill-rule="evenodd" d="M675.0 563.5 255.0 563.5 259.5 557.5 259.8 551.5 259.0 549.3 253.0 548.0 249.2 549.5 247.4 553.5 247.1 557.5 248.5 563.5 125.0 563.5 125.0 492.9 134.5 477.5 150.8 445.5 158.9 421.5 159.2 417.5 165.0 405.1 187.0 377.5 192.6 367.5 192.0 359.5 186.8 351.5 184.9 347.5 185.0 344.8 187.7 349.5 189.0 350.3 191.7 349.5 196.7 343.5 196.9 335.5 195.0 332.9 191.0 333.9 187.0 337.5 186.8 335.5 193.0 329.2 209.2 319.5 233.0 298.7 237.0 294.0 241.0 286.2 251.0 283.7 255.0 281.0 275.0 261.8 279.0 256.3 287.0 248.9 288.9 245.5 295.0 242.0 299.9 235.5 307.0 230.8 313.8 221.5 319.5 209.5 341.0 191.6 346.3 185.5 348.5 181.5 354.2 155.5 359.0 146.5 365.0 139.9 389.1 119.5 407.0 109.1 425.0 101.0 433.4 95.5 441.5 87.5 451.0 72.2 461.5 61.5 463.7 55.5 506.5 55.5 508.0 63.5 512.2 69.5 517.0 72.6 533.0 78.8 545.0 79.5 555.0 81.5 601.0 79.2 617.0 82.4 627.0 88.1 639.0 91.6 655.0 94.3 675.0 94.7 675.0 470.2 669.0 472.0 664.5 475.5 663.0 478.9 661.3 477.5 661.0 475.4 657.0 474.5 655.8 475.5 655.0 479.5 657.0 483.1 661.0 477.7 662.5 479.5 661.4 501.5 663.1 511.5 663.8 527.5 667.0 534.5 671.0 537.0 675.0 537.7 675.0 563.5ZM312.9 553.5 319.0 550.8 327.0 550.3 330.1 547.5 331.6 541.5 324.9 531.5 320.2 519.5 316.6 513.5 311.0 509.3 303.0 508.5 297.0 511.3 294.0 515.5 290.1 527.5 290.1 535.5 293.9 545.5 299.8 553.5 305.0 555.3 312.9 553.5ZM532.4 521.5 533.8 517.5 532.6 513.5 526.9 513.5 525.3 517.5 526.0 521.5 529.0 522.6 532.4 521.5ZM337.8 551.5 339.5 549.5 339.7 545.5 337.3 541.5 335.0 540.9 331.9 545.5 332.1 549.5 335.0 552.3 337.8 551.5Z"/>
<path fill="#ff9800" fill-rule="evenodd" d="M667.0 563.5 580.9 563.5 580.7 555.5 578.1 547.5 575.0 544.4 569.0 542.6 565.0 544.2 561.3 549.5 561.0 563.5 437.0 563.5 435.3 559.5 431.0 559.0 426.8 559.5 425.3 563.5 351.4 563.5 351.6 549.5 348.8 541.5 343.0 536.5 339.0 536.0 335.0 537.7 333.7 535.5 334.3 517.5 332.4 509.5 329.5 505.5 325.0 502.5 315.0 500.6 307.0 501.6 301.0 503.7 290.8 511.5 287.8 515.5 286.0 521.5 281.4 529.5 281.1 537.5 285.7 549.5 291.2 555.5 297.0 557.2 309.0 557.1 313.0 555.6 319.0 557.1 321.0 556.8 329.0 551.4 330.7 563.5 261.7 563.5 261.9 551.5 261.0 548.3 259.0 546.4 249.0 543.6 243.0 545.2 238.8 549.5 235.8 555.5 234.5 563.5 125.0 563.5 125.0 493.5 134.1 479.5 151.5 445.5 159.9 421.5 160.9 415.5 166.9 403.5 173.0 397.2 187.0 378.7 193.6 367.5 194.2 363.5 190.5 353.5 193.0 351.8 197.2 345.5 198.2 337.5 197.0 329.5 198.5 327.5 223.0 311.9 237.7 297.5 240.6 287.5 251.0 285.9 255.0 283.4 267.0 271.9 289.0 247.0 296.4 241.5 300.4 235.5 307.3 231.5 315.0 221.9 317.0 215.5 320.6 209.5 342.4 191.5 348.8 183.5 355.0 156.8 359.7 147.5 365.0 141.7 379.0 132.2 391.0 120.1 409.0 109.5 425.0 102.3 435.0 95.7 443.2 87.5 451.0 75.3 464.7 63.5 467.5 59.5 468.7 55.5 505.1 55.5 505.5 61.5 507.3 65.5 513.0 71.3 519.0 75.2 533.0 81.0 543.3 81.5 547.0 85.4 549.0 86.0 601.0 81.1 615.9 83.5 627.0 89.7 639.0 92.7 653.0 95.0 675.0 95.5 675.0 462.4 669.0 465.0 665.0 472.2 663.0 473.6 661.0 469.7 657.0 469.4 649.0 474.8 642.8 477.5 642.1 483.5 645.0 486.5 653.0 489.0 655.0 488.8 659.2 485.5 658.0 503.5 661.1 515.5 661.1 519.5 661.0 521.1 657.0 522.0 646.2 529.5 642.1 535.5 640.9 541.5 641.9 545.5 646.6 551.5 661.7 555.5 666.6 559.5 668.5 563.5 667.0 563.5ZM565.0 499.5 565.8 497.5 565.0 496.7 565.0 499.5ZM529.2 525.5 533.0 524.4 539.0 519.1 543.0 517.3 549.0 510.8 557.7 507.5 559.6 505.5 560.4 501.5 557.0 501.1 551.0 503.0 547.0 506.5 541.0 506.7 522.9 513.5 520.0 517.5 520.3 521.5 524.9 525.5 529.2 525.5ZM545.7 519.5 544.4 519.5 545.0 520.2 545.7 519.5Z"/>
<path fill="#ff8c00" fill-rule="evenodd" d="M523.0 563.5 468.5 563.5 466.2 557.5 462.5 553.5 455.0 549.1 447.0 547.1 439.0 547.6 407.0 553.7 387.0 554.2 381.0 552.9 375.0 548.8 369.0 541.8 363.9 533.5 360.9 525.5 360.5 519.5 361.8 513.5 369.0 500.3 370.3 495.5 367.0 493.4 345.0 489.1 323.2 489.5 311.0 493.5 297.0 500.6 291.0 506.5 286.2 509.5 271.0 524.2 261.0 528.2 243.0 530.6 237.0 532.6 231.0 538.5 225.0 541.8 219.0 542.6 209.0 535.7 201.0 536.8 199.9 539.5 200.3 545.5 213.1 553.5 215.0 557.5 215.9 563.5 125.0 563.5 125.0 494.2 134.9 479.5 150.7 449.5 162.9 415.5 167.0 407.0 187.0 379.9 194.7 367.5 195.1 355.5 198.2 347.5 199.6 333.5 201.0 329.9 211.0 322.3 225.0 315.5 229.0 310.0 249.0 289.9 255.0 289.0 261.6 289.5 263.0 287.8 263.4 283.5 265.2 281.5 266.0 277.5 275.1 263.5 290.1 247.5 297.3 241.5 300.9 235.5 308.4 231.5 315.3 223.5 318.4 215.5 322.6 209.5 343.0 192.2 349.0 185.3 350.9 181.5 356.5 157.5 361.0 148.5 365.0 144.1 379.1 135.5 394.0 121.5 409.0 112.4 427.0 103.6 435.9 97.5 444.6 89.5 455.0 76.9 471.6 63.5 477.0 55.5 500.7 55.5 505.6 67.5 539.0 93.5 546.5 93.5 559.0 89.0 601.0 84.0 615.0 85.4 627.0 91.2 637.7 93.5 653.0 95.9 675.0 96.9 675.0 416.6 655.1 413.5 654.7 419.5 649.5 427.5 643.0 432.4 627.0 441.0 618.4 451.5 617.2 459.5 619.0 464.5 623.0 469.0 627.0 468.7 637.0 461.6 643.0 460.6 647.0 462.3 648.6 465.5 648.1 469.5 645.8 473.5 637.0 477.0 625.0 477.6 613.0 487.5 607.0 489.9 585.0 494.0 573.0 491.1 563.0 491.9 558.6 495.5 551.0 498.6 547.0 501.9 535.0 506.2 515.0 511.1 509.0 514.5 507.5 517.5 507.4 523.5 509.0 534.0 513.0 542.5 523.9 553.5 524.9 563.5 523.0 563.5ZM241.0 293.6 240.8 289.5 242.7 287.5 248.0 287.5 243.0 293.2 241.0 293.6ZM607.3 411.5 610.1 405.5 609.0 397.0 605.0 397.5 603.0 399.3 600.1 407.5 601.0 412.2 603.0 412.9 607.3 411.5ZM675.0 444.0 669.0 445.5 663.0 444.3 661.6 441.5 662.5 435.5 669.0 433.7 675.0 434.8 675.0 444.0ZM463.8 505.5 465.9 503.5 465.0 496.0 463.0 495.1 457.0 495.5 455.2 501.5 456.6 505.5 459.0 506.5 463.8 505.5ZM617.0 563.5 593.6 563.5 590.5 541.5 582.3 521.5 583.3 515.5 587.0 511.0 593.0 508.6 607.0 509.4 612.2 511.5 615.0 514.9 617.1 521.5 619.8 543.5 618.3 563.5 617.0 563.5ZM437.3 521.5 439.1 517.5 436.7 511.5 433.0 510.1 426.4 511.5 425.3 517.5 427.0 520.8 433.0 522.7 437.3 521.5ZM541.0 549.9 537.0 551.1 533.0 551.0 530.9 549.5 530.5 547.5 533.7 539.5 537.0 536.2 539.0 535.8 545.0 536.5 546.7 539.5 546.4 545.5 541.0 549.9ZM271.0 563.5 269.0 563.3 265.0 559.3 263.9 555.5 264.4 551.5 267.0 546.8 271.0 545.5 274.8 547.5 276.0 551.5 273.0 554.9 269.0 551.8 268.8 553.5 273.9 557.5 273.0 561.2 271.0 563.5ZM655.0 563.5 635.8 563.5 636.4 557.5 641.0 552.5 651.0 553.5 654.0 557.5 655.0 563.5Z"/>
<path fill="#ff8000" fill-rule="evenodd" d="M201.0 563.5 125.0 563.5 125.0 494.8 135.8 479.5 150.9 451.5 168.8 407.5 195.7 367.5 200.3 347.5 199.9 341.5 201.0 334.5 207.0 332.4 207.8 327.5 211.0 324.0 225.5 317.5 247.0 296.3 251.0 294.0 261.0 291.6 264.1 289.5 265.5 283.5 267.8 281.5 276.3 263.5 291.5 247.5 300.8 239.5 300.3 237.5 302.0 235.5 305.0 235.0 309.0 231.8 316.3 223.5 319.0 216.8 323.0 211.5 343.0 193.7 351.0 184.3 358.1 157.5 365.0 146.3 369.0 142.9 381.9 135.5 399.0 121.8 435.0 101.0 463.0 75.8 479.0 63.8 487.0 60.3 491.0 62.1 493.4 67.5 505.0 70.3 525.0 83.9 535.5 93.5 539.0 94.9 547.0 95.1 559.0 91.9 599.0 86.8 609.0 86.6 617.0 88.0 627.0 92.3 639.0 94.6 653.0 96.8 675.0 98.5 675.0 412.1 655.0 411.5 647.0 416.7 643.0 417.2 639.4 415.5 635.0 415.4 629.0 418.7 625.0 418.8 619.0 415.0 611.0 395.2 607.0 395.0 603.0 396.5 598.1 403.5 596.6 411.5 599.0 417.8 606.0 427.5 606.9 435.5 602.1 459.5 600.0 465.5 596.4 471.5 587.0 479.0 565.0 487.0 545.0 500.4 535.0 504.0 515.0 508.6 509.0 510.9 497.0 520.6 491.0 523.9 481.0 524.8 473.0 521.4 470.4 517.5 470.0 503.5 467.2 495.5 463.0 493.0 457.0 493.2 453.6 495.5 445.0 504.9 429.0 506.8 425.0 508.3 421.3 511.5 419.1 515.5 419.0 519.5 421.7 523.5 427.1 527.5 428.7 533.5 428.2 535.5 425.0 538.8 421.0 539.9 415.0 539.7 405.0 535.4 385.0 532.6 377.0 528.3 375.2 525.5 373.8 519.5 374.2 499.5 373.1 495.5 371.0 493.2 365.0 490.7 347.0 487.3 323.0 488.2 309.0 492.8 297.0 499.0 269.0 523.4 227.0 530.3 207.0 529.1 201.0 531.2 197.5 535.5 196.2 541.5 197.0 547.5 201.8 559.5 202.3 563.5 201.0 563.5ZM405.0 435.5 406.3 431.5 403.0 430.4 399.8 431.5 400.0 435.5 401.0 436.4 405.0 435.5ZM189.0 513.5 188.4 509.5 182.2 509.5 183.0 514.4 187.0 515.0 189.0 513.5ZM597.0 517.6 593.4 515.5 600.8 515.5 599.0 517.3 597.0 517.6Z"/>
<path fill="#ff7300" fill-rule="evenodd" d="M193.0 563.5 125.0 563.5 125.0 495.5 136.8 479.5 152.1 451.5 170.8 407.5 180.1 391.5 196.6 367.5 202.7 349.5 201.0 341.0 203.0 338.2 209.0 337.5 210.9 325.5 225.0 320.6 247.0 300.8 261.0 294.0 266.1 289.5 267.7 283.5 274.8 273.5 279.0 261.7 289.0 251.0 302.8 239.5 303.5 237.5 317.0 223.6 319.0 218.6 323.0 213.6 341.0 197.3 351.3 185.5 359.7 157.5 363.0 151.0 367.0 146.4 383.0 136.8 401.8 123.5 437.0 102.5 471.0 74.7 483.0 68.2 487.0 68.1 493.0 70.8 503.0 72.1 507.0 73.9 523.0 84.2 535.0 94.7 539.0 96.4 547.0 96.8 559.0 94.5 581.0 93.0 601.0 89.2 611.0 88.6 627.0 93.2 639.0 95.5 675.0 100.2 675.0 408.1 667.0 408.9 661.0 410.8 651.0 411.2 631.0 409.3 625.0 407.1 615.0 399.5 611.0 393.2 607.0 392.6 603.0 393.8 596.8 399.5 592.0 409.5 589.8 455.5 588.4 461.5 585.0 467.1 569.0 476.9 551.9 493.5 543.0 499.2 533.0 502.7 511.0 507.0 495.0 512.4 487.0 512.4 481.0 509.6 477.0 505.5 470.3 495.5 467.0 492.4 463.0 490.7 455.0 491.1 439.0 500.2 425.2 503.5 411.0 508.5 401.0 509.7 395.0 508.7 385.0 503.8 375.2 493.5 369.0 489.6 357.0 486.6 345.0 485.3 323.0 486.8 309.0 491.7 295.0 499.4 289.0 505.6 277.4 513.5 273.0 519.4 269.0 522.1 263.0 521.7 249.0 523.7 235.0 524.0 211.0 520.8 199.0 516.0 191.0 507.0 181.0 506.7 179.0 509.5 180.0 515.5 192.0 521.5 193.5 523.5 193.9 527.5 192.0 541.5 194.2 561.5 194.3 563.5 193.0 563.5ZM406.2 439.5 413.6 429.5 405.0 427.1 398.9 427.5 396.5 429.5 395.9 431.5 397.3 437.5 401.0 439.7 406.2 439.5Z"/>
<path fill="#ff6700" fill-rule="evenodd" d="M187.0 563.5 125.0 563.5 125.0 496.1 137.7 479.5 147.9 461.5 155.3 447.5 171.6 409.5 181.1 391.5 197.5 367.5 207.0 348.3 209.0 345.9 217.0 344.8 219.6 343.5 221.0 337.5 217.3 331.5 217.4 327.5 219.6 325.5 227.0 322.6 235.0 313.8 249.0 303.1 264.2 295.5 268.3 289.5 269.6 283.5 275.4 279.5 280.1 263.5 284.0 257.5 289.0 251.9 303.6 239.5 317.0 224.4 321.0 217.6 341.0 199.1 352.4 185.5 361.2 157.5 367.0 148.3 437.1 105.5 475.0 76.5 485.0 72.1 499.0 73.6 507.0 76.0 523.0 85.9 535.0 96.3 541.0 98.4 583.0 96.4 603.0 91.2 611.0 90.4 627.0 94.2 675.0 102.0 675.0 404.1 665.0 405.7 660.7 409.5 653.0 409.5 649.0 407.2 637.0 404.9 629.0 402.0 619.8 395.5 619.0 391.4 609.0 389.5 601.0 391.8 594.4 397.5 586.1 409.5 573.1 441.5 570.6 455.5 563.0 465.6 558.2 479.5 554.1 487.5 545.0 495.9 531.0 501.2 499.0 506.2 491.0 506.0 483.0 502.8 469.0 490.6 465.0 488.6 459.0 487.3 451.0 488.8 433.0 497.1 421.0 499.7 413.0 500.1 403.0 495.8 391.0 497.0 387.0 496.3 373.0 488.6 363.4 485.5 351.0 483.5 341.0 483.4 325.0 485.1 315.0 488.1 297.0 497.0 288.0 505.5 277.1 511.5 273.0 515.1 269.0 515.5 267.2 517.5 245.0 520.8 229.0 517.9 224.4 515.5 219.0 510.1 205.0 506.8 193.0 500.5 185.0 498.2 183.0 499.0 182.4 503.5 177.0 506.5 175.6 509.5 177.8 515.5 185.2 523.5 187.6 529.5 187.0 563.5ZM278.4 309.5 279.2 307.5 277.0 306.7 271.8 309.5 278.4 309.5ZM409.6 417.5 408.3 417.5 409.0 419.1 409.6 417.5ZM386.9 425.5 385.2 421.5 381.0 421.5 381.0 425.6 386.9 425.5ZM415.3 443.5 417.0 435.8 421.0 436.7 422.2 435.5 419.0 432.1 417.0 432.2 413.0 425.8 409.9 425.5 411.9 421.5 411.0 420.1 409.0 424.7 399.0 423.9 392.2 425.5 389.5 427.5 392.4 435.5 397.0 440.7 407.0 444.6 413.0 444.6 415.3 443.5ZM526.7 463.5 531.0 460.0 541.7 457.5 545.8 455.5 548.6 451.5 546.4 445.5 541.0 442.3 535.0 442.4 531.0 444.4 525.0 449.8 517.0 453.8 515.3 457.5 516.5 463.5 523.0 464.8 526.7 463.5ZM188.0 487.5 189.9 485.5 190.4 481.5 187.0 477.5 181.0 475.8 179.7 481.5 181.0 485.8 185.0 488.6 188.0 487.5Z"/>
<path fill="#ff5a00" fill-rule="evenodd" d="M181.0 563.5 125.0 563.5 125.0 496.7 138.6 479.5 153.5 453.5 184.4 387.5 209.0 352.6 219.0 346.9 222.9 343.5 229.2 333.5 229.8 325.5 232.5 319.5 241.0 311.9 255.0 303.0 267.0 299.4 271.0 301.8 274.6 301.5 276.6 297.5 279.0 297.6 285.5 293.5 286.0 291.5 281.0 287.5 280.0 283.5 281.2 265.5 283.7 259.5 289.0 252.8 304.3 239.5 317.0 225.2 319.0 221.1 341.0 201.0 351.0 189.0 356.2 179.5 362.5 157.5 365.8 151.5 369.0 148.2 393.2 135.5 435.0 110.0 460.0 93.5 479.0 78.1 487.0 74.9 499.0 75.6 509.0 78.7 525.0 89.1 535.0 98.1 541.0 100.2 557.0 99.3 583.0 100.2 591.0 98.4 603.1 93.5 613.0 92.2 665.0 101.3 675.0 104.1 675.0 119.6 674.0 121.5 675.0 124.4 675.0 399.8 649.0 401.9 639.0 400.6 631.0 397.1 621.0 386.6 611.0 385.2 605.0 386.4 599.0 389.4 583.0 403.5 574.1 405.5 572.5 407.5 569.0 419.4 561.0 428.1 553.0 432.2 539.0 434.8 531.0 437.4 519.0 445.3 513.0 451.9 511.7 455.5 511.8 459.5 513.5 463.5 517.0 466.4 523.0 467.5 535.0 465.7 543.0 466.1 549.0 469.0 552.7 475.5 552.6 483.5 547.9 491.5 537.0 497.9 527.0 499.9 503.0 501.8 493.0 501.0 483.0 496.9 469.0 487.2 459.0 483.9 449.0 484.9 431.0 493.3 417.0 495.2 403.0 492.4 387.0 491.0 371.0 485.0 361.0 482.5 343.0 481.3 325.0 483.6 317.0 486.0 299.0 494.7 293.0 498.8 287.0 505.4 281.0 508.2 259.0 515.7 251.0 517.7 245.0 517.8 235.8 515.5 229.0 512.5 207.0 499.9 201.0 494.8 197.0 487.5 193.6 471.5 193.8 469.5 199.0 465.5 199.7 459.5 199.0 457.2 193.0 457.2 190.8 459.5 190.1 467.5 187.9 469.5 183.0 471.4 178.7 475.5 174.6 491.5 170.5 495.5 168.3 501.5 165.0 504.8 159.0 507.0 157.6 509.5 159.0 514.6 165.0 515.4 169.0 513.8 173.0 514.3 178.6 519.5 181.9 525.5 183.3 535.5 181.0 563.5ZM308.4 283.5 308.4 281.5 307.0 281.0 302.6 283.5 305.0 285.1 308.4 283.5ZM278.1 311.5 280.3 309.5 280.5 307.5 279.0 305.2 270.5 307.5 269.9 309.5 271.0 311.2 275.0 312.2 278.1 311.5ZM411.6 447.5 415.0 446.5 417.0 444.4 418.2 437.5 423.0 438.3 423.8 437.5 423.0 434.7 417.0 428.7 411.0 417.5 409.0 415.7 407.0 416.1 406.2 417.5 407.6 419.5 407.0 421.3 403.0 419.8 385.0 416.8 381.0 417.1 377.4 419.5 376.7 425.5 378.5 429.5 392.4 441.5 403.0 446.7 411.6 447.5ZM215.9 443.5 217.2 441.5 217.0 436.6 215.0 435.2 211.0 435.2 209.0 436.2 208.3 443.5 211.0 444.3 215.9 443.5Z"/>
<path fill="#ff4e00" fill-rule="evenodd" d="M173.0 563.5 125.0 563.5 125.0 497.2 139.7 479.5 154.8 453.5 175.6 409.5 180.5 401.5 182.9 391.5 191.9 377.5 209.0 357.0 226.1 345.5 231.4 339.5 233.7 333.5 233.0 323.5 234.7 319.5 255.0 306.1 265.0 303.1 275.0 302.7 288.0 293.5 288.8 291.5 287.6 281.5 284.1 275.5 284.1 269.5 282.7 265.5 284.7 259.5 289.0 253.9 291.0 253.1 293.0 254.3 295.0 253.8 293.3 251.5 294.5 249.5 312.7 231.5 319.8 221.5 331.0 212.2 345.0 198.4 355.8 183.5 363.9 157.5 369.4 149.5 407.0 130.9 464.1 95.5 481.0 80.6 489.0 77.1 499.0 77.6 509.0 80.3 525.0 90.6 533.0 98.7 541.0 102.1 557.0 101.3 577.0 104.2 585.0 104.3 593.0 101.9 604.0 95.5 613.0 93.7 665.0 102.5 675.0 107.0 675.0 117.2 672.1 119.5 671.4 123.5 669.8 125.5 671.0 127.0 673.0 125.2 675.0 128.0 675.0 395.0 649.0 397.2 639.0 396.2 633.0 393.2 623.0 381.6 617.0 379.6 611.0 380.1 601.0 384.3 583.0 398.4 572.1 403.5 563.0 413.1 557.0 417.5 533.0 428.2 521.0 435.2 511.0 443.5 507.1 449.5 506.1 457.5 508.7 463.5 512.8 467.5 519.0 470.0 541.0 472.3 547.0 476.2 549.8 481.5 548.7 487.5 543.0 493.2 535.0 496.9 525.0 498.1 511.0 498.7 495.0 496.8 485.0 493.0 467.0 482.7 455.0 479.1 447.0 479.9 437.0 486.5 431.0 489.1 419.0 490.9 387.0 486.7 359.0 479.7 345.0 479.1 333.0 480.5 319.0 483.8 299.0 493.5 293.0 497.5 287.0 504.9 247.0 515.6 233.0 509.7 216.2 499.5 208.8 493.5 203.1 485.5 200.6 473.5 205.3 455.5 209.0 451.0 218.0 445.5 220.5 439.5 220.0 435.5 217.0 432.4 213.0 431.7 209.0 432.5 197.4 443.5 195.9 451.5 189.0 457.3 185.0 464.8 177.4 473.5 171.0 486.2 164.7 495.5 158.4 501.5 149.3 505.5 147.0 508.2 147.0 514.5 157.0 522.6 163.0 521.5 167.0 518.7 171.0 517.6 175.0 518.1 176.4 519.5 178.5 525.5 179.2 533.5 174.4 563.5 173.0 563.5ZM309.6 285.5 310.5 279.5 309.1 277.5 305.0 280.2 302.0 279.5 303.0 277.4 301.0 276.6 299.7 277.5 301.7 281.5 300.4 283.5 301.0 286.1 305.0 287.0 309.6 285.5ZM278.7 313.5 282.0 309.5 281.0 305.3 277.0 304.1 269.1 307.5 268.6 311.5 271.0 314.0 275.0 314.8 278.7 313.5ZM416.6 449.5 419.6 445.5 420.2 439.5 423.0 439.2 424.8 437.5 423.0 433.0 410.6 415.5 407.0 414.2 403.0 415.3 393.0 412.5 383.0 412.7 379.0 413.9 375.0 417.3 373.2 423.5 374.2 429.5 377.0 434.3 382.5 439.5 391.4 445.5 401.0 449.7 411.0 451.2 416.6 449.5Z"/>
<path fill="#ff4100" fill-rule="evenodd" d="M167.0 563.5 125.0 563.5 125.0 498.1 130.4 493.5 139.8 481.5 156.3 453.5 169.1 429.5 170.0 425.5 173.9 419.5 177.5 409.5 182.4 403.5 183.4 395.5 191.4 383.5 193.2 377.5 203.0 365.8 211.0 358.9 234.9 345.5 239.2 341.5 240.6 337.5 240.2 333.5 238.1 327.5 235.2 323.5 237.0 320.3 255.0 309.0 267.0 305.5 267.0 307.5 264.3 311.5 266.3 315.5 271.0 318.6 277.0 318.0 281.0 315.2 284.3 309.5 284.1 305.5 279.0 301.5 290.5 293.5 293.1 289.5 295.0 283.4 297.0 281.9 299.0 286.5 303.0 288.9 307.0 288.4 311.2 285.5 312.7 279.5 311.0 276.1 305.0 276.9 303.0 274.8 296.8 273.5 291.0 267.4 285.0 265.6 286.7 259.5 295.0 255.3 296.7 253.5 296.4 249.5 314.7 231.5 321.2 221.5 331.0 214.6 344.4 201.5 358.1 181.5 365.0 158.6 369.3 151.5 379.0 145.7 387.0 143.7 407.0 134.6 441.0 112.8 471.0 96.4 476.6 91.5 482.0 83.5 489.0 79.3 497.0 79.2 507.7 81.5 523.7 91.5 533.0 101.1 541.0 104.2 557.0 103.3 577.0 108.2 587.0 109.0 595.0 106.2 600.8 99.5 604.6 97.5 609.7 95.5 615.0 95.3 643.4 99.5 663.5 103.5 669.0 106.0 672.9 113.5 671.3 117.5 668.5 119.5 668.6 125.5 669.8 127.5 675.0 129.9 675.0 389.9 653.0 392.9 637.0 392.0 634.3 389.5 631.7 379.5 629.0 374.3 623.0 371.0 617.0 371.5 609.0 374.8 597.0 382.5 579.0 396.7 559.0 407.7 545.0 412.0 535.0 417.0 508.3 435.5 502.1 441.5 498.2 447.5 496.8 453.5 498.1 459.5 503.0 466.4 511.0 471.0 521.0 474.0 537.0 476.2 547.0 481.3 547.3 485.5 544.8 489.5 538.8 493.5 533.0 495.7 513.0 496.2 501.0 494.4 485.0 488.6 463.0 476.7 449.0 471.7 445.0 471.6 440.5 473.5 437.5 477.5 435.0 483.9 423.0 486.8 415.0 486.8 387.0 482.8 359.0 477.1 345.0 476.9 323.0 481.0 313.0 484.9 293.0 496.2 289.7 499.5 287.9 503.5 285.0 505.0 265.0 508.0 253.0 510.7 249.0 513.5 247.0 513.5 220.9 497.5 211.0 488.1 207.2 481.5 205.3 473.5 207.4 463.5 211.0 456.8 222.3 445.5 224.7 439.5 223.8 433.5 220.7 429.5 215.0 427.1 209.0 428.0 205.0 430.2 200.0 435.5 195.3 443.5 193.0 450.3 187.1 455.5 161.6 491.5 146.7 505.5 143.9 511.5 143.4 515.5 145.0 519.6 149.0 522.8 155.0 524.7 157.0 525.1 161.0 523.9 165.0 525.9 167.7 523.5 167.0 521.5 173.0 519.9 175.0 521.1 175.8 531.5 167.0 563.5ZM418.1 455.5 421.0 454.3 423.4 451.5 424.1 447.5 422.7 441.5 425.9 437.5 423.3 431.5 411.0 414.1 409.0 412.9 405.0 412.7 397.0 406.0 391.0 404.1 385.0 404.4 372.0 413.5 369.1 419.5 369.5 429.5 371.5 435.5 375.8 441.5 383.0 446.2 399.0 453.1 409.0 455.4 418.1 455.5Z"/>
<path fill="#ff3500" fill-rule="evenodd" d="M159.0 563.5 125.0 563.5 125.0 499.2 139.0 488.6 143.9 477.5 165.2 443.5 171.6 429.5 172.3 427.5 171.5 425.5 173.0 423.4 177.1 421.5 177.5 413.5 179.0 410.1 183.0 406.8 187.0 405.8 189.5 407.5 190.2 411.5 191.8 411.5 193.6 409.5 194.8 405.5 194.0 403.5 189.6 399.5 189.3 393.5 197.0 380.2 203.7 371.5 213.0 363.2 225.0 356.2 247.0 349.5 259.0 347.7 264.3 343.5 264.5 337.5 263.0 335.1 251.0 331.8 247.0 329.5 245.0 325.5 246.2 319.5 251.0 316.3 257.0 316.0 259.5 317.5 267.0 326.5 273.0 325.9 279.0 322.0 283.0 317.7 291.0 300.7 301.0 293.0 309.0 289.3 313.1 285.5 316.9 275.5 320.1 271.5 315.0 270.6 307.0 273.0 301.4 271.5 295.5 267.5 294.6 265.5 295.2 263.5 293.7 261.5 294.6 257.5 298.0 253.5 299.0 249.9 305.0 245.7 317.0 234.3 324.1 221.5 331.0 216.7 345.1 203.5 359.6 181.5 367.9 159.5 373.0 152.4 381.0 147.4 388.7 145.5 412.0 135.5 445.0 115.0 477.0 99.2 487.0 88.5 495.0 85.1 503.0 85.3 509.0 87.2 521.0 94.4 530.5 103.5 535.0 105.6 557.0 106.3 585.0 113.8 591.0 113.6 595.8 111.5 599.5 109.5 606.9 101.5 615.0 98.8 631.0 99.3 643.0 100.9 661.0 105.2 665.6 107.5 667.2 109.5 668.8 115.5 667.5 121.5 668.8 127.5 672.1 129.5 675.0 134.9 675.0 382.0 659.1 381.5 651.8 377.5 649.6 373.5 647.5 353.5 646.1 351.5 635.0 351.4 623.0 357.1 616.7 361.5 599.0 377.4 577.0 393.6 563.0 399.8 545.0 401.3 533.0 405.3 532.0 409.5 529.0 412.7 523.0 416.5 517.0 422.7 497.8 435.5 487.0 447.3 486.9 457.5 492.0 467.5 493.0 473.5 491.0 477.6 485.0 480.2 477.0 479.1 465.0 473.4 437.0 453.4 428.2 443.5 425.9 433.5 415.7 417.5 407.6 409.5 405.0 403.5 401.1 399.5 395.0 399.1 385.0 401.6 375.0 405.3 369.0 409.6 364.9 413.5 363.8 419.5 365.5 433.5 368.3 441.5 373.0 447.3 382.3 455.5 385.8 461.5 386.2 465.5 383.6 469.5 379.0 472.3 373.0 474.1 341.0 475.2 322.3 479.5 305.0 487.5 291.0 495.8 288.9 497.5 287.0 503.7 281.0 504.9 269.0 505.1 259.0 507.0 251.0 506.5 247.0 503.5 243.0 503.9 235.0 500.4 224.3 493.5 214.7 483.5 210.7 473.5 211.6 465.5 216.3 457.5 228.5 443.5 229.4 433.5 229.0 431.4 225.0 426.4 219.0 422.3 215.0 420.8 207.0 422.5 203.0 424.6 198.3 429.5 189.5 445.5 175.7 465.5 172.1 473.5 157.5 489.5 146.3 499.5 139.0 512.5 136.4 519.5 138.3 523.5 137.6 525.5 133.0 526.8 134.3 529.5 137.0 530.5 151.0 529.6 157.0 530.6 161.0 532.3 164.7 535.5 166.3 539.5 165.9 545.5 164.2 553.5 161.0 559.7 160.4 563.5 159.0 563.5ZM309.4 261.5 308.0 261.5 309.4 261.5ZM324.4 269.5 325.0 267.1 321.8 269.5 324.4 269.5ZM272.0 381.5 272.3 377.5 271.0 375.1 269.6 377.5 269.6 381.5 271.0 383.4 272.0 381.5ZM419.0 477.6 413.0 479.1 406.4 477.5 401.3 473.5 399.5 469.5 399.7 467.5 403.6 463.5 407.0 462.1 413.0 462.2 417.0 464.0 419.1 465.5 421.9 471.5 421.0 475.5 419.0 477.6ZM523.0 493.6 519.0 493.4 514.0 489.5 512.7 485.5 514.9 481.5 519.0 480.0 525.0 480.0 529.0 481.3 531.1 483.5 531.8 487.5 529.5 491.5 523.0 493.6Z"/>
<path fill="#ff2800" fill-rule="evenodd" d="M285.0 503.7 271.0 503.6 265.0 504.7 255.0 503.9 235.0 495.0 227.0 489.6 220.7 483.5 216.2 475.5 215.9 465.5 219.6 457.5 230.3 443.5 231.1 431.5 227.0 424.1 219.0 417.6 213.0 415.7 201.0 415.0 199.0 413.8 195.9 401.5 193.1 397.5 193.3 393.5 199.0 384.6 210.7 371.5 217.0 366.5 227.0 361.4 253.5 351.5 265.0 348.5 271.0 348.8 279.0 356.1 285.0 355.9 288.2 353.5 288.3 345.5 282.5 339.5 280.7 335.5 280.6 331.5 282.7 325.5 294.2 303.5 302.7 295.5 313.9 287.5 327.0 270.8 328.1 267.5 321.0 259.9 319.0 256.3 315.0 258.2 307.0 258.6 301.0 260.3 299.0 262.3 296.4 261.5 296.5 257.5 301.0 252.0 307.0 248.5 311.0 242.9 321.0 239.9 326.4 241.5 331.0 241.0 331.3 235.5 325.0 234.2 323.0 231.7 323.8 225.5 326.5 221.5 347.8 201.5 349.6 197.5 361.1 181.5 371.0 160.7 376.1 153.5 383.0 148.8 413.6 137.5 433.0 127.5 449.0 117.5 471.0 108.5 479.4 103.5 491.6 93.5 499.0 90.5 505.0 90.5 511.0 92.6 527.0 104.1 534.4 107.5 559.0 109.1 585.0 115.8 595.0 114.6 601.0 111.6 611.0 104.1 621.0 101.6 631.0 101.2 643.0 102.4 659.0 106.5 663.8 109.5 666.2 113.5 666.7 121.5 668.4 127.5 672.2 131.5 675.0 138.8 675.0 373.1 663.0 372.0 657.0 369.1 654.0 365.5 650.5 353.5 647.0 349.5 641.0 348.1 633.6 349.5 625.0 353.1 615.0 360.0 597.0 376.9 579.0 389.2 563.0 396.2 545.0 399.5 533.0 403.4 527.6 407.5 529.0 409.6 525.0 409.3 518.7 413.5 518.9 417.5 517.0 420.1 497.6 433.5 485.7 445.5 484.4 453.5 487.0 465.5 486.7 469.5 483.6 473.5 479.0 474.8 471.0 473.0 459.0 466.7 449.0 460.2 437.0 450.4 431.1 443.5 426.3 431.5 417.0 416.9 403.0 398.4 397.0 396.5 385.0 397.8 375.0 402.4 363.8 411.5 360.2 419.5 360.2 427.5 362.0 435.5 374.4 457.5 374.3 463.5 371.8 467.5 363.8 471.5 341.0 473.8 321.0 478.7 289.4 495.5 287.4 497.5 287.0 502.1 285.0 503.7ZM319.0 266.6 316.9 265.5 317.1 263.5 319.0 263.4 320.1 265.5 319.0 266.6ZM305.0 266.2 301.0 267.1 297.0 265.5 305.0 264.3 305.7 265.5 305.0 266.2ZM273.4 383.5 275.0 377.5 273.0 373.0 271.0 372.3 263.6 375.5 262.9 381.5 263.9 383.5 271.0 385.2 273.4 383.5ZM181.0 418.2 178.9 415.5 179.6 411.5 183.0 409.0 187.0 409.7 187.8 411.5 186.5 413.5 181.0 418.2ZM149.0 489.7 145.0 487.7 144.3 485.5 145.9 477.5 151.0 471.6 159.0 455.2 169.8 445.5 171.3 441.5 171.0 433.5 175.2 425.5 183.0 421.5 185.4 417.5 189.0 414.5 194.6 415.5 196.8 417.5 196.1 421.5 188.4 437.5 180.0 447.5 178.1 457.5 172.0 471.5 167.0 478.1 159.1 483.5 155.0 487.9 149.0 489.7ZM157.0 563.5 125.0 563.5 125.0 500.8 129.0 497.0 135.0 495.5 137.0 495.9 139.5 499.5 136.2 511.5 135.7 517.5 129.8 527.5 130.5 531.5 133.0 533.6 137.0 534.8 149.0 534.8 155.0 536.0 159.0 538.4 161.3 541.5 162.5 545.5 162.1 553.5 158.5 563.5 157.0 563.5Z"/>
<path fill="#ff1c00" fill-rule="evenodd" d="M267.0 503.7 257.0 501.8 241.0 493.5 229.0 485.8 222.8 479.5 219.7 473.5 219.2 465.5 222.5 457.5 232.0 443.5 233.4 435.5 232.3 427.5 227.9 419.5 221.0 412.8 215.0 409.7 203.0 407.3 199.0 405.2 195.6 397.5 195.7 395.5 219.0 370.8 245.0 360.9 255.7 353.5 261.0 352.1 265.0 352.1 269.0 354.2 272.5 359.5 273.2 363.5 272.1 365.5 261.3 373.5 261.1 383.5 263.0 386.1 269.0 387.4 273.0 386.6 276.4 383.5 278.9 377.5 279.5 367.5 280.5 365.5 289.0 358.2 291.7 353.5 292.1 347.5 287.5 335.5 286.9 329.5 288.1 323.5 292.4 313.5 298.7 303.5 318.7 285.5 327.5 275.5 330.7 269.5 330.1 265.5 325.0 261.7 322.8 257.5 325.0 255.9 331.0 255.9 335.0 254.0 335.1 239.5 333.1 233.5 326.5 231.5 325.3 229.5 325.8 225.5 340.0 209.5 349.0 201.5 351.0 197.1 364.2 179.5 379.6 153.5 386.0 149.5 413.0 140.5 430.2 133.5 451.0 120.9 473.0 113.5 483.0 107.5 495.3 97.5 501.0 94.8 509.0 95.6 523.1 105.5 531.0 108.8 557.0 111.0 587.0 118.0 597.0 116.6 615.0 106.3 629.0 103.1 641.0 103.6 650.9 105.5 659.0 108.5 662.8 111.5 664.9 115.5 667.9 127.5 671.3 131.5 675.0 140.3 675.0 364.5 663.0 364.9 657.2 363.5 654.5 353.5 651.1 349.5 647.0 347.0 643.0 346.2 633.0 347.2 625.0 349.8 615.0 356.8 597.0 375.2 583.0 384.0 565.0 392.2 537.0 400.8 517.4 413.5 516.8 417.5 515.3 419.5 497.0 432.4 485.2 443.5 483.2 447.5 482.1 453.5 483.9 461.5 483.8 467.5 482.5 469.5 479.0 471.2 473.0 470.7 457.0 462.9 449.0 458.0 438.8 449.5 432.3 441.5 427.8 431.5 417.0 414.2 407.0 399.4 403.0 395.3 391.0 392.8 385.0 393.7 375.0 398.6 367.0 407.2 360.1 411.5 355.8 419.5 355.1 425.5 356.6 433.5 369.4 457.5 369.4 461.5 367.0 466.0 359.0 469.9 341.0 472.3 321.0 477.7 287.3 495.5 284.4 501.5 267.0 503.7ZM315.0 255.9 309.0 256.0 309.0 252.1 317.0 252.6 317.5 253.5 315.0 255.9ZM181.0 416.3 181.0 411.4 183.0 410.7 185.9 411.5 183.0 415.4 181.0 416.3ZM189.0 422.1 187.0 422.8 185.7 419.5 189.0 416.4 190.5 417.5 190.7 419.5 189.0 422.1ZM181.0 438.2 177.0 438.6 175.0 437.5 172.9 435.5 172.7 431.5 177.0 425.2 181.0 424.0 185.0 424.4 186.8 427.5 186.3 431.5 184.3 435.5 181.0 438.2ZM153.0 485.8 148.0 485.5 146.9 483.5 147.2 479.5 153.0 474.7 160.5 455.5 169.0 451.7 173.0 452.2 175.6 457.5 171.1 471.5 165.0 478.4 157.0 481.0 153.0 485.8ZM129.0 523.9 125.0 523.8 125.0 504.3 129.0 499.1 133.0 497.8 135.4 499.5 135.5 503.5 135.0 505.5 130.6 509.5 130.5 511.5 133.8 515.5 131.5 521.5 129.0 523.9ZM157.0 563.5 125.0 563.5 125.0 539.0 137.0 540.2 151.0 539.5 157.0 542.1 159.5 545.5 160.7 551.5 157.0 563.5Z"/>
<path fill="#ff1000" fill-rule="evenodd" d="M277.0 501.7 265.0 503.1 261.1 501.5 233.0 483.9 224.3 475.5 222.1 469.5 222.4 463.5 225.0 457.5 233.8 443.5 235.6 435.5 235.1 427.5 232.8 419.5 225.0 407.1 221.0 403.2 209.7 397.5 209.3 393.5 212.3 385.5 221.0 374.0 239.0 368.5 252.4 367.5 255.3 357.5 256.4 355.5 259.0 354.6 265.9 355.5 267.1 361.5 265.0 365.1 253.2 369.5 253.6 379.5 256.2 385.5 261.3 389.5 269.0 390.6 275.0 388.6 280.4 383.5 287.6 369.5 294.1 359.5 296.2 353.5 295.9 345.5 291.2 329.5 291.8 323.5 294.7 315.5 299.5 307.5 306.2 299.5 329.0 279.5 334.9 269.5 339.0 255.5 338.6 241.5 334.7 233.5 329.0 231.4 327.0 229.5 327.5 225.5 340.9 209.5 349.9 201.5 351.8 197.5 370.6 173.5 382.4 153.5 391.0 149.4 436.0 135.5 445.0 130.8 451.0 124.4 465.0 122.7 473.0 120.0 489.9 109.5 495.0 105.2 499.4 99.5 503.0 97.9 509.0 98.6 515.3 105.5 527.0 110.5 557.0 113.2 587.0 120.3 593.0 120.3 599.0 118.9 619.0 108.1 631.0 104.8 647.0 105.9 655.0 108.3 660.3 111.5 663.1 115.5 666.5 125.5 670.5 131.5 675.0 141.5 675.0 356.7 661.0 352.4 651.0 345.6 645.0 343.4 629.0 344.8 623.0 347.5 613.0 355.3 599.3 371.5 595.0 374.9 575.0 385.2 539.0 398.2 517.0 412.9 513.2 419.5 493.6 433.5 483.1 443.5 479.4 453.5 481.5 459.5 481.9 465.5 481.0 467.9 479.0 468.6 473.0 468.2 469.0 464.9 457.0 460.7 449.0 455.8 441.0 449.1 434.6 441.5 409.9 399.5 404.1 391.5 401.6 385.5 399.0 384.2 393.0 384.3 373.0 395.5 369.4 399.5 367.0 405.4 356.6 409.5 353.0 413.5 350.0 419.5 349.0 427.5 350.7 433.5 363.0 451.6 365.8 457.5 365.8 461.5 363.2 465.5 357.0 468.2 341.0 470.8 319.0 477.4 288.3 493.5 285.1 495.5 285.0 497.6 283.8 497.5 283.6 495.5 280.6 495.5 279.0 498.7 281.0 497.9 282.3 499.5 279.0 499.7 277.0 501.7ZM203.0 401.7 201.0 401.1 199.4 397.5 205.4 397.5 203.0 401.7ZM181.0 434.4 177.0 434.9 173.8 433.5 174.2 431.5 179.0 425.4 181.1 425.5 182.4 427.5 182.6 431.5 181.0 434.4ZM163.0 477.9 157.6 475.5 157.0 471.5 157.9 467.5 163.0 457.4 171.0 454.7 173.0 456.0 173.9 459.5 170.3 471.5 167.0 475.6 163.0 477.9ZM155.0 563.5 125.0 563.5 125.0 546.9 137.0 547.2 149.0 542.9 155.0 544.3 158.0 547.5 159.0 553.5 156.8 563.5 155.0 563.5Z"/>
<path fill="#ff0300" fill-rule="evenodd" d="M275.0 501.7 265.0 502.3 263.3 501.5 249.0 489.0 231.0 478.1 225.4 471.5 224.5 467.5 225.3 461.5 234.9 445.5 237.7 437.5 237.5 417.5 239.7 411.5 240.7 399.5 243.0 396.3 247.0 394.4 267.0 394.6 277.0 391.3 285.4 383.5 297.4 365.5 300.9 357.5 301.8 351.5 300.9 345.5 294.8 329.5 295.0 323.5 297.0 317.5 301.0 310.6 311.3 297.5 327.9 285.5 335.8 277.5 340.5 269.5 346.3 255.5 349.4 251.5 349.1 243.5 344.9 241.5 336.8 233.5 329.0 230.2 328.3 229.5 328.9 225.5 339.8 211.5 350.7 201.5 353.0 197.3 375.7 171.5 380.4 163.5 383.0 155.5 384.8 153.5 401.0 148.1 459.0 134.1 463.0 131.2 477.0 125.2 493.0 114.7 503.0 109.8 509.0 109.5 531.0 114.0 557.0 115.3 591.0 123.1 603.0 120.7 622.7 109.5 631.0 106.5 647.0 107.2 654.2 109.5 659.0 112.4 663.0 118.3 675.0 142.3 675.0 350.6 663.0 348.6 639.0 335.5 635.0 335.6 630.9 339.5 621.0 345.0 613.0 351.6 599.4 369.5 595.0 373.5 579.0 380.8 541.0 395.2 529.0 404.1 525.0 405.7 517.0 412.1 513.0 418.0 484.2 439.5 479.3 445.5 474.2 457.5 469.0 460.4 463.0 460.3 457.0 458.7 449.0 453.7 441.9 447.5 435.0 438.8 424.4 421.5 403.2 383.5 397.0 380.5 389.7 381.5 375.0 389.0 365.0 395.7 359.0 397.6 357.0 401.6 344.1 415.5 338.9 425.5 338.6 429.5 339.6 431.5 361.8 455.5 363.4 459.5 362.2 463.5 357.0 466.1 343.0 468.7 319.0 476.3 291.0 491.1 285.0 493.8 279.0 494.7 275.0 501.7ZM522.9 401.5 521.0 401.1 521.0 403.1 522.9 401.5ZM327.3 437.5 329.4 433.5 328.9 429.5 325.0 428.1 319.0 429.5 318.3 433.5 319.0 437.1 323.0 438.1 327.3 437.5ZM165.0 476.4 163.0 476.8 160.6 475.5 159.3 471.5 159.9 467.5 165.2 459.5 171.0 456.4 172.6 459.5 169.5 471.5 165.0 476.4ZM155.0 563.5 125.0 563.5 125.0 554.2 137.0 554.2 147.0 546.4 153.0 546.0 155.7 547.5 157.7 551.5 157.9 557.5 155.9 563.5 155.0 563.5Z"/>
<path fill="#f60000" fill-rule="evenodd" d="M267.0 501.7 264.9 501.5 253.0 486.9 245.1 481.5 231.0 474.5 227.0 469.5 227.3 461.5 237.1 445.5 239.7 439.5 242.1 417.5 246.0 409.5 251.0 404.2 257.0 401.4 273.0 397.4 283.3 391.5 294.8 379.5 305.0 365.5 308.3 357.5 308.7 349.5 306.8 343.5 297.9 329.5 297.8 323.5 299.1 319.5 314.0 297.5 319.0 293.6 331.0 288.0 340.3 279.5 349.5 265.5 355.7 251.5 355.8 245.5 352.4 239.5 341.3 233.5 330.8 229.5 329.7 227.5 330.2 225.5 341.0 210.9 351.0 202.3 363.0 187.7 380.3 171.5 384.5 163.5 385.0 155.0 391.0 152.3 403.0 149.4 463.0 139.9 479.0 132.8 495.0 120.3 509.0 116.2 531.0 116.7 545.0 115.8 571.0 119.7 585.0 124.9 593.0 126.3 599.0 125.5 607.0 122.7 631.0 108.1 647.0 108.5 653.0 110.4 658.2 113.5 663.0 120.5 673.3 141.5 675.0 143.1 675.0 345.2 663.0 344.8 651.0 337.1 641.0 333.3 635.0 333.2 631.0 334.5 621.0 340.8 611.0 349.7 597.8 369.5 595.0 372.1 561.0 384.1 541.0 393.0 535.0 396.7 533.4 399.5 529.0 403.1 527.0 401.2 521.0 399.7 519.2 401.5 519.2 403.5 521.8 405.5 522.1 407.5 517.0 411.2 513.0 416.4 506.7 421.5 481.6 439.5 477.7 443.5 469.9 455.5 465.0 458.0 459.0 457.5 455.0 455.8 448.6 451.5 440.4 443.5 425.8 421.5 409.0 386.3 405.0 380.4 401.0 377.2 397.0 375.8 389.0 376.5 357.0 393.8 335.0 413.0 317.0 424.1 313.1 429.5 312.6 435.5 314.6 439.5 317.0 441.5 323.0 442.9 335.0 441.7 343.0 444.1 351.0 449.1 359.0 456.3 361.3 459.5 361.0 462.4 353.0 465.3 343.0 466.8 319.0 475.0 291.0 490.0 279.0 493.5 274.1 497.5 273.0 500.2 267.0 501.7ZM530.0 183.5 532.0 181.5 531.9 175.5 529.0 173.6 523.0 174.5 521.8 177.5 523.0 182.9 530.0 183.5ZM163.0 475.8 161.3 471.5 162.5 465.5 165.0 462.7 167.0 464.5 167.9 463.5 167.2 459.5 171.0 458.2 169.0 470.6 165.0 475.3 163.0 475.8ZM155.0 563.5 128.8 563.5 134.0 557.5 139.0 555.0 143.0 550.6 149.0 547.6 155.7 549.5 157.1 557.5 155.0 563.5Z"/>
<path fill="#e90000" fill-rule="evenodd" d="M267.0 497.6 265.0 498.8 259.9 487.5 253.0 481.1 245.0 476.3 230.8 471.5 229.0 469.5 229.0 461.9 242.6 439.5 244.1 423.5 247.2 415.5 257.0 408.4 277.0 400.5 287.0 394.1 302.6 379.5 314.5 365.5 318.1 359.5 320.3 351.5 318.9 343.5 313.4 337.5 303.0 332.4 301.0 330.2 300.7 321.5 305.0 314.7 310.3 309.5 312.9 301.5 317.0 297.2 319.1 295.5 329.0 294.2 339.0 288.1 345.0 282.9 359.0 263.5 364.2 253.5 366.2 245.5 365.4 237.5 362.0 233.5 355.0 231.4 334.9 229.5 331.6 227.5 332.0 225.5 341.7 211.5 351.0 203.8 363.1 189.5 386.6 171.5 388.9 167.5 390.4 161.5 388.2 155.5 392.5 153.5 403.0 151.2 441.0 148.7 461.0 148.5 469.0 147.1 491.0 137.5 492.7 135.5 493.5 127.5 495.0 125.0 503.0 125.4 515.0 120.0 531.0 119.7 543.2 117.5 547.0 119.2 555.0 119.1 571.0 121.5 587.0 128.5 595.0 130.1 607.0 126.8 615.0 122.8 628.6 111.5 632.5 109.5 643.8 109.5 655.7 113.5 661.0 120.0 665.5 129.5 669.0 134.3 671.7 141.5 675.0 144.4 675.0 306.3 669.0 304.4 663.0 305.2 661.1 313.5 665.0 321.0 669.0 324.2 675.0 326.5 675.0 336.8 668.8 341.5 665.0 342.3 662.5 341.5 655.0 333.7 649.0 331.2 633.0 331.0 623.0 334.8 607.0 349.7 597.0 367.7 591.0 364.5 583.0 365.1 581.6 367.5 581.4 371.5 584.0 373.5 581.2 375.5 563.0 379.9 551.0 385.4 533.0 395.4 531.0 399.8 523.0 397.5 519.0 399.1 517.1 403.5 517.7 405.5 520.5 407.5 505.0 420.9 478.1 439.5 465.0 455.7 458.4 455.5 451.0 451.3 441.0 441.5 425.0 416.9 421.0 409.2 412.6 385.5 405.0 372.9 401.0 369.7 397.0 368.4 389.0 369.7 377.0 377.4 351.0 391.2 339.0 401.0 319.0 412.1 306.4 423.5 302.2 431.5 301.6 437.5 302.5 441.5 305.0 445.5 309.0 448.4 315.0 449.7 331.0 447.6 339.0 448.8 349.0 452.4 359.0 459.4 359.2 461.5 353.0 463.5 343.0 464.6 337.0 467.6 317.0 473.7 305.0 479.6 297.0 485.5 283.1 491.5 279.0 491.9 267.0 497.6ZM534.3 183.5 536.5 179.5 536.5 175.5 530.4 165.5 530.0 161.5 527.0 157.5 526.7 155.5 518.8 147.5 518.6 145.5 521.3 145.5 521.1 143.5 519.0 142.9 513.0 144.1 509.0 140.0 503.0 136.2 496.5 137.5 495.9 139.5 498.6 143.5 505.0 146.8 511.0 146.8 512.7 149.5 512.2 151.5 513.0 152.5 517.0 151.3 519.2 153.5 523.1 165.5 518.0 175.5 518.3 179.5 520.5 183.5 523.0 185.1 529.0 185.3 534.3 183.5ZM529.7 155.5 529.0 153.1 527.7 155.5 529.7 155.5ZM378.8 223.5 383.0 221.1 385.7 217.5 386.0 211.5 383.0 207.6 377.0 208.5 373.3 211.5 371.4 215.5 371.3 219.5 373.0 222.8 375.0 223.8 378.8 223.5ZM153.0 563.5 135.2 563.5 136.3 559.5 143.0 552.4 149.0 549.3 154.9 551.5 155.5 557.5 153.0 563.5Z"/>
<path fill="#dd0000" fill-rule="evenodd" d="M463.0 435.9 457.0 437.4 451.0 436.7 445.0 433.4 439.3 427.5 434.3 417.5 428.4 395.5 415.7 363.5 409.0 354.5 401.0 350.9 390.1 351.5 367.0 356.7 363.0 359.9 356.0 373.5 351.0 378.6 345.0 381.7 333.0 384.9 315.0 395.3 305.0 407.2 293.0 410.8 291.5 409.5 292.8 401.5 295.2 395.5 299.0 392.8 307.8 389.5 313.0 376.8 327.0 372.7 333.4 365.5 337.0 358.9 344.9 355.5 350.4 351.5 354.9 341.5 373.0 315.1 379.0 311.5 383.0 312.0 389.0 314.9 393.0 314.8 395.6 313.5 396.2 307.5 395.0 304.5 381.7 297.5 370.6 283.5 369.2 277.5 370.1 273.5 379.0 267.3 387.0 255.5 391.0 247.1 393.7 235.5 402.0 227.5 401.4 219.5 393.0 203.4 387.0 196.5 385.0 196.4 377.0 202.0 367.0 204.8 363.4 209.5 361.0 210.7 355.0 210.6 355.4 203.5 357.0 201.5 363.2 199.5 369.0 190.1 377.0 188.3 385.0 190.4 389.0 188.7 397.3 181.5 405.4 169.5 411.4 163.5 423.0 157.0 433.0 154.6 441.0 155.1 449.0 158.2 479.0 181.1 491.0 187.7 501.0 189.6 521.0 190.1 533.0 193.1 539.0 192.1 544.8 187.5 548.0 181.5 548.8 173.5 547.4 165.5 543.4 155.5 538.7 149.5 525.0 142.8 516.8 137.5 515.1 133.5 515.6 129.5 521.0 125.0 529.0 124.6 541.0 127.6 551.0 128.8 595.0 139.1 605.0 138.0 631.0 129.2 639.0 129.4 647.0 132.3 666.9 149.5 675.0 152.4 675.0 300.7 667.0 301.1 663.0 302.4 659.3 305.5 653.0 314.8 643.0 322.7 625.0 328.3 617.0 332.7 603.0 347.8 595.0 358.6 581.0 363.2 571.0 369.4 551.0 375.1 521.0 392.3 516.7 395.5 505.0 408.4 463.0 435.9ZM349.0 219.8 343.0 220.1 342.0 217.5 344.8 213.5 349.0 212.1 350.6 213.5 350.8 215.5 349.0 219.8ZM418.8 241.5 425.0 239.8 425.8 233.5 423.0 230.8 417.0 229.7 413.3 231.5 412.5 233.5 415.0 239.5 416.9 241.5 418.8 241.5ZM604.2 265.5 605.4 263.5 605.0 257.6 601.0 256.7 597.0 257.5 597.0 264.7 599.0 265.8 604.2 265.5ZM531.2 353.5 532.1 349.5 531.0 345.6 524.9 345.5 523.8 349.5 524.9 353.5 531.2 353.5ZM275.0 477.8 269.0 478.6 263.0 477.1 249.0 468.8 245.4 465.5 243.6 461.5 244.0 453.5 249.9 429.5 252.7 423.5 256.2 419.5 263.0 414.7 271.0 411.4 291.0 409.8 292.6 411.5 293.0 421.5 291.8 425.5 286.0 433.5 284.7 437.5 283.5 449.5 284.1 467.5 281.0 473.7 275.0 477.8ZM335.0 464.5 331.0 465.3 329.0 464.6 328.0 461.5 328.9 457.5 333.0 456.8 337.0 457.8 337.4 461.5 335.0 464.5Z"/>
<path fill="#d00000" fill-rule="evenodd" d="M527.0 139.5 520.2 137.5 519.2 131.5 521.0 128.4 529.0 128.1 532.3 131.5 533.0 135.5 532.3 137.5 527.0 139.5ZM459.0 427.7 455.0 429.1 449.0 428.7 445.0 426.4 442.8 423.5 440.9 415.5 441.8 403.5 440.9 397.5 430.7 375.5 423.2 349.5 419.6 343.5 411.0 337.0 403.0 333.0 399.0 333.2 391.0 338.0 385.0 339.6 379.0 338.6 374.6 333.5 374.3 329.5 375.5 325.5 379.0 322.2 387.0 321.8 397.0 325.2 399.0 325.0 401.9 321.5 403.6 311.5 398.3 289.5 398.1 279.5 402.0 265.5 408.2 253.5 416.2 245.5 421.0 242.6 426.6 241.5 429.2 239.5 434.4 233.5 441.0 221.7 445.0 218.4 449.0 217.5 457.0 219.4 471.0 228.8 479.0 231.8 487.0 232.1 501.0 229.7 509.0 230.7 513.0 233.2 523.0 243.7 527.0 245.1 533.0 244.5 536.5 241.5 537.9 237.5 533.9 225.5 535.0 218.1 538.4 213.5 555.0 197.1 560.1 189.5 562.4 183.5 563.2 173.5 560.3 155.5 560.8 151.5 563.0 147.2 569.0 143.3 577.0 142.3 583.0 143.7 595.0 149.2 601.0 150.2 607.0 149.0 625.0 140.5 633.0 140.2 639.0 142.5 644.9 147.5 659.0 165.2 667.0 169.4 675.0 170.6 675.0 297.0 667.0 297.9 661.0 300.4 649.0 312.1 641.0 318.2 617.0 330.1 595.4 353.5 591.0 356.8 569.0 364.0 547.0 362.6 543.6 363.5 535.7 375.5 519.0 386.9 509.0 397.5 503.0 400.8 485.0 406.2 477.0 409.8 471.0 414.6 463.9 423.5 459.0 427.7ZM437.0 191.6 429.0 192.7 419.0 189.2 416.6 187.5 415.0 183.5 411.0 181.7 410.6 179.5 418.5 173.5 426.4 161.5 433.0 158.1 439.0 158.5 443.3 161.5 446.0 165.5 447.5 171.5 447.0 177.5 445.0 183.2 441.0 188.8 437.0 191.6ZM407.0 203.6 400.5 201.5 399.8 195.5 401.0 193.0 408.2 193.5 410.5 195.5 411.9 199.5 411.4 201.5 407.0 203.6ZM607.1 267.5 609.5 263.5 609.9 259.5 607.0 253.7 601.0 251.4 595.0 253.5 592.1 259.5 592.6 263.5 595.0 267.4 601.0 269.5 607.1 267.5ZM496.1 293.5 497.8 291.5 498.8 287.5 497.0 281.5 493.0 279.2 487.0 280.0 485.0 282.0 483.8 285.5 485.0 292.0 489.0 294.7 493.0 294.8 496.1 293.5ZM540.1 357.5 540.9 353.5 540.1 349.5 535.7 343.5 529.0 341.6 523.0 344.1 521.9 347.5 522.6 353.5 525.0 356.1 533.0 359.2 537.0 359.1 540.1 357.5ZM347.0 373.7 343.0 374.6 339.0 373.9 338.9 369.5 347.0 366.7 348.0 369.5 347.0 373.7ZM271.0 470.4 265.0 471.3 259.0 469.1 250.9 463.5 250.0 457.5 252.3 437.5 255.2 429.5 265.0 419.2 269.0 417.0 275.0 416.2 279.0 417.4 281.4 419.5 282.4 429.5 276.5 463.5 274.5 467.5 271.0 470.4Z"/>
<path fill="#c40000" fill-rule="evenodd" d="M527.0 135.6 523.0 135.5 522.9 131.5 527.2 131.5 527.0 135.6ZM583.0 166.1 577.0 165.2 570.5 159.5 569.4 155.5 569.9 151.5 573.0 147.7 581.0 147.8 584.5 151.5 586.7 157.5 586.7 161.5 585.0 164.9 583.0 166.1ZM505.0 395.5 479.0 395.2 473.0 394.2 465.0 390.9 455.0 391.3 447.0 387.1 439.0 377.5 434.9 367.5 433.8 357.5 436.0 349.5 440.7 343.5 440.8 335.5 437.0 332.4 425.0 328.6 419.0 324.2 414.4 317.5 407.7 301.5 407.4 295.5 409.4 283.5 419.9 245.5 423.0 243.6 429.0 242.6 435.0 243.5 441.0 242.3 446.2 239.5 447.6 235.5 451.0 234.3 454.7 235.5 456.0 239.5 458.4 241.5 473.0 248.7 481.0 251.5 487.0 251.4 500.4 245.5 507.0 244.4 513.0 245.5 527.0 251.0 535.9 249.5 541.8 245.5 546.7 239.5 555.4 219.5 563.0 209.0 591.0 182.7 597.0 179.0 607.0 175.0 611.0 171.8 618.1 153.5 622.9 147.5 627.0 145.9 633.0 146.4 637.9 151.5 639.3 157.5 639.0 161.5 635.5 169.5 627.8 179.5 626.8 183.5 628.5 191.5 634.7 201.5 641.0 206.0 649.0 206.7 653.0 205.1 665.0 196.2 675.0 193.8 675.0 294.0 667.0 295.2 661.0 297.6 641.0 314.3 619.0 326.4 612.6 331.5 593.0 352.6 585.0 356.9 571.0 360.1 563.0 359.2 559.0 357.2 555.1 353.5 551.0 342.5 535.0 337.1 527.0 338.3 521.8 343.5 520.9 349.5 522.5 355.5 527.0 364.2 531.5 367.5 531.4 371.5 525.0 374.1 513.6 385.5 509.8 393.5 505.0 395.5ZM435.0 173.7 431.0 172.9 428.5 169.5 429.3 163.5 430.3 161.5 433.0 160.5 439.0 161.0 441.1 165.5 441.0 169.5 439.8 171.5 435.0 173.7ZM607.7 271.5 612.3 267.5 614.3 263.5 614.7 257.5 613.5 253.5 609.0 247.7 605.0 245.2 601.0 244.3 595.0 245.6 591.0 248.5 587.8 253.5 587.1 259.5 589.0 265.5 592.2 269.5 597.0 272.3 603.0 272.9 607.7 271.5ZM497.1 299.5 501.0 296.6 504.1 291.5 504.9 287.5 504.3 281.5 501.3 275.5 497.0 271.2 491.0 268.1 487.0 268.2 483.0 271.6 480.1 277.5 479.0 285.5 480.0 291.5 483.0 296.8 487.0 299.7 493.0 300.6 497.1 299.5ZM385.0 332.0 380.6 331.5 381.0 327.2 385.5 327.5 385.0 332.0ZM455.0 424.9 447.0 424.3 445.2 419.5 445.3 415.5 447.0 412.8 453.0 409.8 457.0 411.4 458.7 415.5 457.8 421.5 455.0 424.9ZM267.0 467.8 263.0 467.6 259.7 465.5 259.9 455.5 255.7 447.5 255.2 437.5 257.8 431.5 267.1 421.5 269.0 420.0 275.0 419.5 278.5 421.5 279.0 429.1 273.0 453.5 271.9 463.5 269.0 467.3 267.0 467.8Z"/>
<path fill="#b70000" fill-rule="evenodd" d="M631.0 157.9 627.0 158.0 625.0 156.5 625.0 151.5 627.0 150.0 631.0 150.0 632.8 151.5 633.0 156.0 631.0 157.9ZM499.0 386.5 493.0 387.3 483.0 386.5 477.0 384.7 467.0 379.6 453.0 382.0 447.0 379.0 442.5 373.5 440.1 367.5 439.4 359.5 440.6 353.5 445.8 341.5 445.6 333.5 441.0 327.8 425.0 318.3 421.3 313.5 418.9 307.5 419.3 297.5 417.4 291.5 418.7 283.5 423.6 271.5 431.0 260.5 437.0 257.7 447.0 257.0 455.0 258.4 463.0 262.1 467.0 265.5 471.0 271.8 475.5 293.5 479.0 301.8 485.0 307.2 489.0 308.5 495.0 308.5 501.0 306.4 505.1 303.5 509.0 298.4 511.6 291.5 512.5 283.5 511.7 275.5 509.1 269.5 504.3 263.5 503.0 259.5 504.4 253.5 507.0 251.5 515.0 251.8 521.0 256.8 527.0 258.4 535.0 257.0 542.9 253.5 557.0 242.9 560.4 237.5 565.6 221.5 571.0 215.7 577.0 213.0 583.0 212.2 589.0 213.2 605.0 221.5 615.0 218.4 623.0 217.3 647.0 220.7 651.0 219.2 665.0 209.6 675.0 206.8 675.0 291.2 667.0 292.7 659.0 296.1 641.0 311.0 619.0 324.2 611.0 331.0 593.0 350.0 585.0 355.1 571.0 357.4 563.0 354.7 559.6 349.5 561.4 343.5 561.6 337.5 561.0 335.1 559.0 334.0 535.0 331.1 527.0 332.9 523.0 336.8 520.0 345.5 522.5 361.5 521.0 369.5 517.0 375.0 509.0 382.2 499.0 386.5ZM609.0 275.5 615.0 271.6 618.3 267.5 620.6 261.5 620.7 255.5 618.6 249.5 609.0 234.3 603.0 228.4 597.0 231.4 583.6 243.5 580.2 249.5 580.0 255.5 583.7 265.5 591.0 273.3 599.0 276.6 609.0 275.5ZM658.4 241.5 660.4 239.5 659.4 233.5 653.0 232.5 651.7 235.5 653.0 240.8 658.4 241.5ZM275.0 427.5 271.0 427.8 269.0 429.1 269.6 423.5 275.0 422.6 276.1 425.5 275.0 427.5ZM265.0 451.7 259.0 446.8 257.3 439.5 259.3 433.5 267.0 429.3 268.4 429.5 272.3 439.5 272.6 443.5 269.0 449.7 265.0 451.7ZM267.0 464.5 263.0 464.4 262.4 463.5 263.0 457.2 265.0 456.5 267.9 457.5 268.6 461.5 267.0 464.5Z"/>
<path fill="#ab0000" fill-rule="evenodd" d="M497.0 379.9 485.0 380.2 469.0 377.2 455.0 378.2 449.1 375.5 445.8 371.5 443.7 365.5 443.8 357.5 452.3 339.5 453.5 331.5 452.3 327.5 449.0 323.9 431.0 315.8 425.6 309.5 424.2 303.5 424.4 289.5 427.0 281.5 433.0 273.4 439.0 269.4 447.0 267.6 455.0 268.9 462.3 273.5 466.8 279.5 469.2 285.5 472.3 309.5 475.2 317.5 481.0 324.7 489.0 324.5 495.0 320.3 509.0 315.5 514.1 311.5 517.4 303.5 523.0 276.0 525.6 271.5 530.5 267.5 555.0 255.9 565.0 254.6 571.0 258.0 582.3 271.5 591.0 277.8 601.0 280.9 611.0 279.6 617.0 276.7 622.8 271.5 626.8 265.5 629.6 257.5 629.9 253.5 628.9 249.5 622.6 243.5 620.5 239.5 620.1 235.5 622.1 231.5 625.0 230.1 631.0 230.3 635.2 233.5 640.3 241.5 642.7 243.5 651.0 246.2 657.0 245.8 661.0 244.0 662.8 241.5 663.3 235.5 661.4 227.5 662.8 221.5 669.0 216.0 675.0 214.4 675.0 288.3 665.0 290.9 657.0 294.8 643.0 306.6 617.0 323.7 591.0 349.5 583.0 354.2 571.0 355.2 565.0 352.7 562.3 347.5 562.4 335.5 561.0 332.9 557.0 330.1 533.0 323.9 525.0 324.3 521.7 327.5 519.8 333.5 518.9 347.5 520.3 359.5 518.1 367.5 515.0 371.3 509.0 375.7 497.0 379.9ZM581.0 234.0 575.0 235.1 571.0 232.1 570.8 225.5 573.0 222.0 579.0 221.0 583.4 223.5 584.1 229.5 581.0 234.0ZM267.0 446.5 263.0 446.4 259.5 443.5 259.8 435.5 263.0 433.3 267.0 433.3 269.4 435.5 270.5 443.5 267.0 446.5Z"/>
<path fill="#9f0000" fill-rule="evenodd" d="M573.0 353.5 569.0 353.0 565.1 349.5 563.8 345.5 563.7 335.5 559.0 327.2 555.0 324.4 539.0 318.4 532.8 313.5 529.9 309.5 527.8 303.5 527.2 293.5 528.8 283.5 531.6 277.5 535.5 273.5 543.0 268.8 555.0 263.1 561.0 262.0 567.0 264.0 579.6 275.5 595.0 284.1 605.0 285.6 617.0 283.0 628.7 275.5 643.6 257.5 649.0 254.2 659.0 250.6 663.0 247.4 665.5 241.5 665.6 229.5 666.6 225.5 669.9 221.5 675.0 219.5 675.0 285.1 657.0 292.0 643.0 304.1 623.0 316.9 611.0 327.1 586.5 351.5 583.0 352.8 573.0 353.5ZM455.0 311.6 447.0 313.2 435.0 312.8 431.0 310.8 429.2 307.5 428.2 299.5 430.3 287.5 435.0 280.2 443.0 275.3 451.0 274.7 457.0 276.8 462.0 281.5 465.6 287.5 466.4 293.5 464.0 301.5 460.3 307.5 455.0 311.6ZM461.0 375.7 457.0 375.9 451.0 373.3 448.0 369.5 446.7 361.5 449.0 353.3 463.0 338.3 471.0 333.9 487.0 332.1 503.0 328.0 509.0 328.4 513.0 331.1 517.4 341.5 519.5 355.5 517.3 363.5 513.0 368.8 505.0 372.8 497.0 374.5 469.0 374.3 461.0 375.7ZM267.0 444.0 263.0 444.0 261.0 442.4 260.8 437.5 262.3 435.5 267.4 435.5 269.2 441.5 267.0 444.0Z"/>
<path fill="#920000" fill-rule="evenodd" d="M581.0 351.6 571.0 351.7 567.1 349.5 565.5 345.5 564.0 329.5 561.0 322.2 557.0 319.3 547.0 317.2 543.6 315.5 534.5 299.5 534.0 289.5 535.5 281.5 541.0 276.9 561.0 266.4 564.2 267.5 571.7 277.5 583.0 282.2 593.0 288.4 605.0 290.7 625.0 286.6 633.7 281.5 641.0 275.5 652.9 259.5 655.0 258.1 663.0 256.5 666.8 253.5 668.7 245.5 668.4 229.5 671.0 224.8 675.0 222.8 675.0 280.7 665.0 286.3 657.0 289.1 643.0 301.8 623.0 314.3 609.0 326.4 586.5 349.5 581.0 351.6ZM439.0 307.8 433.0 309.1 432.2 307.5 431.8 299.5 434.9 287.5 439.0 282.9 445.0 279.8 455.0 280.4 463.0 288.8 463.0 293.0 459.0 298.1 453.0 302.4 439.0 307.8ZM461.0 373.7 457.0 373.8 453.0 372.0 449.7 367.5 449.4 361.5 450.6 355.5 457.0 351.2 471.0 344.2 505.0 334.8 509.0 334.5 515.0 340.7 516.4 343.5 517.9 355.5 515.1 363.5 513.0 365.8 503.0 369.3 477.0 370.1 461.0 373.7Z"/>
<path fill="#860000" fill-rule="evenodd" d="M665.0 283.9 657.0 285.1 653.4 283.5 652.5 281.5 653.0 277.5 657.0 272.0 663.0 271.5 667.0 274.2 667.9 277.5 665.0 283.9ZM587.0 342.3 581.0 343.4 577.0 341.6 575.4 339.5 571.8 321.5 566.5 309.5 563.0 307.3 553.0 305.5 548.3 301.5 544.2 291.5 544.6 287.5 547.1 283.5 553.0 281.2 559.0 282.3 563.0 287.7 565.0 293.5 567.0 296.2 569.0 296.9 595.0 294.2 605.0 296.8 613.0 294.3 617.7 295.5 624.3 299.5 624.7 303.5 621.7 309.5 602.6 321.5 597.0 327.9 590.9 339.5 587.0 342.3ZM445.0 297.8 441.0 297.6 439.0 295.5 440.1 287.5 445.0 285.2 451.0 285.3 454.1 289.5 453.7 293.5 451.0 296.5 445.0 297.8ZM639.0 299.6 635.0 299.4 632.3 297.5 632.5 293.5 637.0 287.8 645.0 286.3 647.0 287.5 647.8 289.5 646.0 295.5 643.0 298.5 639.0 299.6ZM459.0 369.6 455.0 369.2 452.3 367.5 451.9 361.5 453.0 358.3 463.0 355.4 467.0 352.4 495.0 347.1 503.0 342.7 509.0 342.5 512.6 345.5 513.0 353.7 511.0 356.8 505.0 360.4 495.0 364.3 477.0 364.3 467.0 366.3 459.0 369.6Z"/>
<path fill="none" stroke="#000" stroke-width="1.5" stroke-linejoin="round" d="M280.1 55.5 279.7 79.5 280.6 89.5 284.1 97.5 291.0 101.9 305.0 99.1 317.0 98.1 321.3 89.5 325.9 85.5 328.4 81.5 355.0 59.8 358.5 55.5M313.1 155.5 316.1 151.5 316.6 143.5 320.4 129.5 319.0 119.7 317.0 116.2 313.0 116.5 307.9 121.5 307.7 123.5 308.4 129.5 307.1 133.5 307.0 139.5 308.9 147.5 308.9 153.5 311.0 157.0 313.1 155.5M172.1 55.5 173.9 67.5 178.5 79.5 185.4 91.5 195.7 105.5 243.0 157.1 271.6 193.5 280.3 199.5 289.0 200.7 293.0 199.8 295.0 197.7 306.0 177.5 311.0 172.1 336.0 117.5 343.4 105.5 355.0 96.1 361.0 93.1 365.0 92.2 371.0 86.1 377.0 88.7 383.5 87.5 384.7 81.5 383.0 80.4 377.0 78.9 369.0 81.3 361.0 78.8 357.0 75.5 357.6 69.5 368.1 55.5M125.0 222.6 145.0 220.2 185.0 208.5 201.0 207.7 209.0 209.1 227.0 214.6 245.0 217.6 251.0 219.8 258.6 227.5 259.5 229.5 257.2 239.5 258.3 241.5 261.0 243.1 267.0 243.0 273.0 241.7 277.0 239.7 287.0 230.7 290.7 225.5 293.5 215.5 301.5 195.5 315.0 174.6 323.6 153.5 341.2 119.5 347.6 111.5 361.0 102.7 375.0 96.4 387.0 93.7 395.0 90.4 403.0 91.4 405.0 89.5 404.5 87.5 406.4 83.5 407.4 77.5 407.1 71.5 392.4 61.5 391.7 55.5M125.0 408.6 131.0 406.3 139.9 399.5 153.2 365.5 153.8 359.5 156.3 351.5 156.0 347.5 154.0 343.5 151.7 317.5 151.6 313.5 153.3 307.5 161.4 295.5 171.0 285.1 192.3 253.5 200.1 243.5 203.0 238.1 211.0 234.8 229.0 230.2 241.0 228.9 243.4 229.5 245.7 233.5 246.2 237.5 245.5 239.5 241.0 247.2 233.0 251.0 232.2 253.5 233.0 255.7 237.0 259.6 239.0 260.3 242.2 259.5 245.0 256.9 256.8 251.5 259.0 248.3 263.0 249.7 273.0 245.7 280.0 241.5 290.3 231.5 296.1 223.5 296.7 217.5 300.8 209.5 303.0 202.9 306.9 195.5 320.5 175.5 329.0 152.9 346.4 119.5 353.0 113.0 359.0 109.2 381.0 101.2 405.0 95.4 408.6 93.5 414.8 85.5 417.3 75.5 416.4 69.5 413.0 62.3 409.2 59.5 406.0 55.5M125.0 474.3 129.0 471.9 130.8 469.5 141.7 451.5 144.3 445.5 147.8 425.5 147.0 413.5 147.8 401.5 151.4 387.5 164.4 355.5 166.5 347.5 166.4 343.5 161.7 325.5 165.0 304.6 167.0 299.5 177.5 283.5 187.0 273.1 190.0 265.5 196.8 255.5 203.0 249.3 217.0 244.8 225.0 237.1 231.0 234.7 235.0 234.5 237.1 235.5 237.6 239.5 229.0 248.0 226.3 253.5 226.9 255.5 230.0 257.5 237.0 265.5 239.0 266.0 243.0 264.6 255.0 257.1 259.0 256.1 265.0 256.3 268.1 251.5 275.0 248.1 289.9 237.5 299.0 227.2 300.9 223.5 301.6 219.5 313.9 201.5 331.0 183.5 335.3 161.5 351.3 121.5 357.0 115.5 365.0 110.3 377.0 105.7 387.0 105.0 407.0 99.5 411.0 97.1 418.9 89.5 421.5 83.5 423.5 73.5 422.6 65.5 418.5 55.5M614.5 55.5 615.3 57.5 621.0 61.5 629.0 64.0 635.0 67.0 633.7 71.5 634.0 75.5 635.5 77.5 639.2 79.5 643.0 81.1 653.0 82.0 660.0 85.5 675.0 86.5M637.0 67.1 635.3 65.5 637.0 61.9 638.3 65.5 637.0 67.1M125.0 488.3 142.4 457.5 148.0 445.5 155.1 421.5 156.0 415.5 159.8 405.5 161.8 401.5 168.3 393.5 180.6 375.5 182.4 371.5 183.3 367.5 182.9 363.5 179.9 355.5 176.0 351.5 176.0 345.5 181.2 333.5 190.0 323.5 190.0 319.5 187.9 315.5 188.5 313.5 195.6 303.5 201.0 293.9 209.0 290.3 217.0 289.2 223.0 287.1 225.2 285.5 227.0 281.1 237.0 281.6 243.3 279.5 248.5 275.5 253.0 269.5 261.0 268.2 263.0 264.3 269.0 260.4 273.4 259.5 274.9 257.5 275.7 253.5 278.1 251.5 280.2 247.5 291.0 241.2 295.0 237.8 296.5 233.5 300.8 231.5 305.0 226.9 306.9 223.5 307.3 219.5 317.0 207.5 341.0 185.6 342.9 179.5 343.2 167.5 345.4 159.5 347.7 153.5 355.1 141.5 361.7 125.5 361.6 123.5 364.0 117.5 369.0 114.2 387.0 112.5 395.0 107.9 409.0 103.7 423.1 97.5 431.3 89.5 436.9 81.5 437.9 77.5 437.8 71.5 435.1 67.5 434.5 63.5 435.2 61.5 440.7 55.5M596.6 55.5 599.0 65.7 617.0 73.1 625.0 78.7 637.0 85.0 653.0 89.4 675.0 90.3M211.0 266.4 207.0 267.2 205.0 265.3 204.3 261.5 205.0 257.5 207.0 256.6 209.0 259.4 213.0 260.0 215.4 261.5 215.0 263.5 211.0 266.4M125.0 493.8 134.5 479.5 150.1 449.5 159.8 423.5 161.7 415.5 167.0 404.7 187.0 379.3 194.1 367.5 194.8 363.5 193.1 355.5 197.8 345.5 199.1 329.5 200.8 327.5 224.2 313.5 239.7 297.5 240.4 295.5 239.9 291.5 241.2 287.5 245.0 286.7 253.0 287.0 259.0 284.1 263.2 277.5 279.0 258.1 291.0 245.8 296.7 241.5 300.7 235.5 307.8 231.5 314.7 223.5 317.7 215.5 321.3 209.5 342.9 191.5 349.5 183.5 355.5 157.5 360.6 147.5 364.3 143.5 379.5 133.5 390.8 121.5 397.0 117.4 411.0 109.5 425.0 103.3 435.0 96.8 444.5 87.5 449.0 79.7 453.0 75.3 467.8 63.5 473.0 55.5M503.5 55.5 506.2 65.5 511.0 70.8 531.0 83.9 547.0 89.8 581.0 83.9 601.0 82.3 615.0 84.2 627.0 90.4 639.0 93.2 647.0 93.8 653.0 95.4 675.0 96.2M675.0 455.6 661.0 457.2 659.0 458.8 649.9 471.5 647.0 474.1 642.7 475.5 640.9 477.5 637.5 483.5 636.7 487.5 637.3 493.5 640.9 503.5 641.2 507.5 633.4 529.5 632.3 537.5 633.0 543.5 636.7 547.5 647.0 552.3 652.7 553.5 657.6 557.5 660.5 563.5M525.4 529.5 531.0 528.8 539.0 525.9 550.3 525.5 554.5 523.5 558.6 515.5 561.0 512.8 571.0 507.6 573.4 505.5 574.8 501.5 571.8 495.5 569.0 493.6 563.0 493.8 559.0 498.3 555.0 499.9 551.0 500.3 547.0 503.9 521.0 511.5 513.7 515.5 513.1 521.5 514.5 523.5 521.0 528.2 525.4 529.5M363.4 563.5 361.7 553.5 357.0 541.5 353.0 534.6 344.2 523.5 343.8 521.5 344.8 519.5 353.4 505.5 352.4 501.5 345.0 496.7 333.0 495.0 321.0 494.6 307.0 498.0 298.6 501.5 287.0 511.1 283.7 515.5 281.0 521.4 273.8 527.5 270.6 531.5 272.2 535.5 279.0 545.5 280.8 551.5 280.9 559.5 284.2 563.5M602.0 505.5 601.0 502.5 597.0 501.5 593.0 502.5 591.9 505.5 597.0 506.4 602.0 505.5M586.4 563.5 583.3 549.5 580.4 543.5 573.0 535.0 571.0 533.7 567.0 533.1 563.0 534.1 561.7 535.5 557.6 543.5 556.1 551.5 555.7 563.5M264.2 563.5 262.8 557.5 263.0 548.0 260.4 541.5 257.0 538.7 243.0 536.4 234.0 545.5 229.6 551.5 227.4 557.5 226.8 563.5M448.9 563.5 448.2 561.5 443.0 558.2 433.0 556.2 424.0 557.5 416.2 561.5 415.2 563.5M125.0 498.6 131.5 493.5 140.9 481.5 170.6 429.5 170.8 425.5 175.5 419.5 178.5 409.5 186.0 401.5 185.7 397.5 187.9 391.5 201.8 369.5 211.0 361.3 221.0 355.1 233.0 349.8 242.2 347.5 246.1 345.5 250.1 341.5 250.4 337.5 245.0 332.8 240.8 325.5 242.6 319.5 247.6 315.5 257.0 311.4 259.0 312.0 265.0 318.6 269.0 321.3 273.0 321.7 277.0 320.4 281.0 317.4 285.0 311.5 286.4 299.5 293.0 295.5 299.0 290.3 307.0 289.3 312.1 285.5 314.1 279.5 313.0 274.6 307.0 275.0 297.0 271.0 292.4 265.5 291.4 261.5 291.9 259.5 297.4 253.5 297.7 249.5 316.7 231.5 322.7 221.5 331.0 215.8 345.0 202.2 358.8 181.5 366.9 157.5 371.1 151.5 381.0 146.1 387.0 144.9 408.8 135.5 443.2 113.5 475.0 97.3 477.5 95.5 483.0 85.9 485.0 84.0 489.0 82.0 493.0 81.5 509.0 84.1 523.0 93.0 530.9 101.5 537.0 104.6 547.0 105.4 555.0 104.5 585.0 111.8 589.0 111.7 595.3 109.5 599.0 106.9 603.0 100.8 609.0 97.8 613.0 96.9 633.0 98.6 663.0 104.6 668.2 107.5 670.4 113.5 670.6 115.5 668.0 119.5 669.0 127.4 675.0 131.3M675.0 386.5 655.0 389.1 645.0 386.9 642.3 385.5 639.0 381.5 639.4 375.5 642.1 369.5 641.0 365.2 639.0 362.1 635.0 360.3 623.0 361.8 607.0 372.1 579.0 394.5 565.0 401.5 557.0 404.2 551.0 405.0 545.0 404.2 535.0 410.1 519.0 423.4 501.8 435.5 492.7 447.5 490.8 453.5 490.7 457.5 493.1 463.5 503.0 472.4 511.0 474.8 536.1 479.5 539.5 481.5 540.8 483.5 541.0 487.5 537.0 491.5 533.4 493.5 525.0 494.9 519.0 495.0 511.1 493.5 497.0 487.7 484.9 485.5 467.0 476.6 451.0 466.7 433.0 459.0 430.8 455.5 428.6 447.5 425.9 443.5 425.2 441.5 426.5 437.5 424.1 431.5 413.0 415.0 405.0 409.5 403.0 404.7 401.0 402.6 397.0 401.3 384.0 403.5 375.3 407.5 367.5 413.5 366.0 419.5 368.3 435.5 371.0 441.6 377.0 447.0 397.0 456.2 413.0 459.0 423.1 463.5 427.5 467.5 430.2 475.5 429.8 477.5 425.8 481.5 422.9 483.5 415.0 483.9 395.0 479.8 361.0 475.8 341.0 476.2 323.0 480.1 305.0 488.2 290.0 497.5 287.5 503.5 285.0 504.7 269.0 505.8 259.0 508.2 249.0 509.4 243.0 507.7 223.0 496.1 212.4 485.5 210.2 481.5 207.6 473.5 207.8 469.5 209.7 463.5 213.7 457.5 226.6 443.5 227.5 437.5 226.7 431.5 223.0 427.3 217.0 424.1 211.0 424.2 204.3 427.5 200.1 431.5 193.6 443.5 192.5 447.5 187.0 452.8 177.0 465.5 168.9 479.5 145.1 505.5 140.8 513.5 141.0 519.5 143.8 525.5 147.0 526.6 153.0 526.3 161.0 528.3 167.0 530.4 170.8 533.5 171.0 537.5 164.5 557.5 163.8 563.5M675.0 303.6 669.0 302.8 663.0 303.8 661.2 305.5 659.4 309.5 657.0 321.5 653.0 326.3 627.0 329.8 619.0 333.8 612.6 341.5 604.3 349.5 602.7 353.5 597.0 362.2 595.0 363.1 591.0 362.7 583.0 363.8 579.5 367.5 577.0 373.5 561.0 377.7 555.0 380.3 547.0 385.5 537.0 389.9 529.0 395.5 521.0 395.8 515.3 401.5 512.6 409.5 503.0 419.5 495.0 423.6 485.0 431.5 483.0 431.9 467.0 447.5 463.0 449.5 459.0 449.5 457.0 448.2 451.0 447.5 439.0 435.5 429.0 419.7 423.0 407.6 420.4 397.5 417.3 391.5 416.3 385.5 413.0 379.5 410.4 371.5 405.0 363.0 401.0 359.7 399.0 359.8 395.0 361.5 391.0 361.9 387.0 364.1 379.0 371.5 345.0 390.1 337.0 397.5 329.0 399.9 319.0 405.5 317.0 405.8 299.0 421.5 291.5 435.5 290.1 445.5 291.0 447.5 291.1 455.5 293.0 457.5 293.3 459.5 297.0 463.4 299.0 465.1 305.0 465.5 305.0 467.5 301.0 473.5 293.0 481.5 279.0 487.8 277.0 489.5 269.0 491.5 265.0 488.9 262.0 483.5 249.0 474.0 240.8 471.5 235.0 467.5 234.1 461.5 235.0 457.4 238.8 451.5 239.0 449.5 244.6 441.5 247.0 423.0 249.0 417.5 267.0 407.5 281.0 403.1 302.6 385.5 311.0 375.2 324.6 363.5 330.7 355.5 336.6 341.5 337.0 331.5 338.4 329.5 338.7 325.5 337.0 323.5 337.0 321.5 335.0 319.5 333.0 319.5 329.0 316.3 329.0 313.5 334.9 307.5 337.0 303.5 348.9 291.5 350.7 287.5 351.0 283.5 360.4 271.5 376.6 245.5 388.9 219.5 389.6 213.5 388.5 207.5 385.0 204.4 383.0 204.0 377.0 206.0 369.3 211.5 365.6 215.5 363.0 220.2 359.0 223.5 347.0 227.5 342.9 227.5 339.5 225.5 337.0 221.5 342.9 211.5 350.6 207.5 355.0 200.0 358.6 197.5 365.0 189.5 389.0 175.2 394.3 167.5 397.0 159.5 399.0 157.5 409.0 153.5 428.8 151.5 449.0 151.5 457.0 153.5 471.0 153.5 477.0 151.3 479.0 149.5 485.0 149.1 487.0 147.5 489.1 147.5 495.0 149.5 499.0 153.3 503.0 155.5 513.0 165.5 513.2 177.5 517.3 183.5 523.0 187.1 531.0 187.4 535.0 187.0 540.5 181.5 540.9 179.5 540.9 175.5 538.8 169.5 533.3 161.5 532.7 153.5 529.0 150.2 524.9 149.5 522.8 143.5 521.0 141.9 515.0 141.5 513.0 140.1 512.3 137.5 509.0 133.5 508.9 129.5 511.0 126.7 514.6 123.5 519.0 121.8 553.0 121.5 559.0 123.2 567.0 123.5 575.0 125.8 591.0 133.2 595.0 133.4 605.0 130.9 617.0 125.3 621.0 123.1 629.0 115.5 647.0 115.5 651.2 117.5 656.2 121.5 669.7 143.5 671.0 144.8 675.0 145.5M333.0 467.5 327.0 468.3 320.8 467.5 317.0 465.8 311.6 465.5 310.7 463.5 318.9 455.5 328.7 451.5 337.0 451.8 344.4 455.5 344.9 459.5 343.2 461.5 337.8 465.5 333.0 467.5M138.9 563.5 139.0 561.4 142.8 557.5 149.0 557.3 151.0 551.6 152.9 553.5 153.1 557.5 153.0 561.5 151.4 563.5M581.0 347.7 575.0 347.3 571.0 344.6 567.0 329.8 565.9 321.5 563.0 314.1 550.6 313.5 547.0 311.4 545.0 308.6 538.6 293.5 538.9 283.5 541.0 281.5 559.0 273.2 563.0 274.9 565.6 281.5 569.0 285.4 571.0 286.1 575.0 284.9 581.0 286.0 589.0 290.7 605.0 294.5 611.0 292.9 627.0 291.2 643.0 282.2 647.8 277.5 655.0 264.6 656.7 263.5 661.2 263.5 674.6 271.5 674.7 273.5 667.2 283.5 663.6 285.5 655.0 287.8 643.0 300.0 629.0 307.0 611.0 320.2 601.2 329.5 591.0 342.3 585.0 346.6 581.0 347.7M441.0 301.9 439.0 302.7 437.0 301.9 435.3 299.5 436.4 291.5 438.1 287.5 441.0 284.4 447.0 282.1 451.0 282.2 454.2 283.5 459.0 289.5 459.5 291.5 458.7 293.5 453.0 297.8 441.0 301.9M461.0 371.6 455.0 371.0 451.0 367.6 450.9 359.5 453.0 356.0 467.0 350.3 487.0 345.2 507.0 338.2 509.0 338.2 511.0 339.6 514.4 343.5 515.7 351.5 515.5 355.5 511.8 361.5 507.0 365.2 493.0 367.4 481.0 366.5 469.0 368.9 461.0 371.6"/>
<path fill="#fff" d="M124.0 54.0 355.0 54.0 351.0 56.0 347.0 56.0 347.0 60.0 343.0 60.0 343.0 64.0 339.0 64.0 339.0 68.0 335.0 68.0 335.0 72.0 331.0 72.0 331.0 76.0 327.0 76.0 327.0 80.0 323.0 80.0 323.0 84.0 319.0 84.0 315.0 84.0 315.0 88.0 307.0 88.0 305.0 90.0 297.0 94.0 289.0 100.0 287.0 101.0 287.0 109.0 294.0 109.0 294.0 104.0 311.0 104.0 311.0 118.0 305.0 118.0 305.0 147.5 308.0 148.0 308.0 155.0 301.0 156.0 297.5 161.0 294.0 164.0 291.0 174.0 290.0 178.0 288.6 188.0 287.0 198.0 286.0 212.0 286.0 216.0 283.0 216.5 283.0 221.0 273.0 221.5 273.0 223.0 241.0 225.0 241.0 227.5 220.0 228.0 217.0 228.0 214.0 231.0 210.0 234.0 205.0 237.0 199.0 240.0 189.0 253.8 176.5 273.8 165.0 286.0 155.0 296.0 147.8 305.0 146.0 310.0 149.0 322.5 145.0 333.8 151.5 337.5 152.8 347.5 151.5 365.0 146.0 370.0 142.6 379.7 137.8 394.0 137.8 431.5 141.0 434.7 141.0 446.0 134.6 452.5 128.0 460.6 124.0 467.0 124.0 54.0Z"/>
<path fill="none" stroke="#000" stroke-width="1.1" stroke-linejoin="round" d="M286.0 180.0 286.0 200.3 282.6 216.0 268.0 220.5 250.0 221.6 232.0 223.9 218.5 227.3 205.0 232.9 193.8 239.6 189.3 247.5 178.0 261.0 169.0 279.0 160.0 288.0 148.8 301.5 144.3 306.0 145.4 317.3 146.5 320.6M178.0 198.0 191.5 189.5 205.0 193.5 210.6 196.9 201.6 201.4 201.6 214.9 215.1 220.5 212.9 225.0 191.5 232.9 192.6 239.6 189.3 240.8 184.8 239.6 169.0 250.9 165.6 247.5 169.0 236.3 184.8 231.8 187.0 227.3 180.3 213.8 176.9 204.8 178.0 198.0M157.8 280.1 161.1 261.0 175.8 252.0 183.6 247.5 179.1 257.6 169.0 267.8 157.8 280.1M124.0 144.3 134.0 148.1 142.8 148.9 150.3 151.9 159.1 151.4 165.4 149.4 161.6 146.8 170.4 135.6 181.7 142.3 189.2 140.6 194.3 134.3 206.8 128.0 214.3 125.5 225.6 119.7 239.4 115.5 247.0 116.7 253.2 115.5 264.5 119.7 275.8 125.5 284.6 133.0 288.4 141.8 289.6 154.4 284.6 155.6 289.6 161.9 292.1 164.4 289.6 174.5 287.1 187.0 284.6 209.1M124.0 403.0 135.4 402.4M142.8 310.0 147.8 328.8 142.8 333.8 147.8 341.2 149.0 360.0 144.0 370.0 136.0 391.0 134.6 410.5 136.0 431.5 137.8 438.0 133.0 447.7 124.9 459.0M146.0 296.0 142.8 310.0M283.8 54.0 280.6 76.5 280.6 96.5 293.8 97.1M293.1 54.0 291.9 66.5 295.0 75.2 298.1 79.0 298.8 86.5 312.5 82.1 330.0 72.8 347.5 60.2 355.0 54.0M352.5 54.0 337.5 64.0 318.8 75.2 307.5 80.2 297.5 84.0 291.2 91.5 286.2 100.2 280.0 109.0 286.2 115.2 290.0 111.5 295.0 115.2 301.2 112.8 302.5 131.0M325.0 54.0 326.2 64.0 321.2 61.5 312.5 65.2 310.0 70.2 316.2 76.5"/>
<path fill="none" stroke="#a8aaaa" stroke-width="2" stroke-dasharray="2 4.523" stroke-dashoffset="1" d="M194.75 529.4V54M194.75 529.4V564M265.50 529.4V54M265.50 529.4V564M336.25 529.4V54M336.25 529.4V564M407.00 529.4V54M407.00 529.4V564M477.75 529.4V54M477.75 529.4V564M548.50 529.4V54M548.50 529.4V564M619.25 529.4V54M619.25 529.4V564"/>
<path fill="none" stroke="#a8aaaa" stroke-width="2" stroke-dasharray="2 4.432" stroke-dashoffset="1" d="M124 529.40H677M124 444.60H677M124 359.80H677M124 275.00H677M124 190.20H677M124 105.40H677"/>
</g>
<text x="147.0" y="109.4" font-size="21" fill="#505050" stroke="#fff" stroke-width="0.3" textLength="11.7" lengthAdjust="spacingAndGlyphs">Z</text>
<text x="175.7" y="109.4" font-size="21" fill="#505050" stroke="#fff" stroke-width="0.3" textLength="13.8" lengthAdjust="spacingAndGlyphs">=</text>
<text x="206.5" y="109.4" font-size="21" fill="#505050" stroke="#fff" stroke-width="0.3" textLength="11.5" lengthAdjust="spacingAndGlyphs">2</text>
<text x="221.5" y="109.4" font-size="21" fill="#505050" stroke="#fff" stroke-width="0.3" textLength="3.5" lengthAdjust="spacingAndGlyphs">.</text>
<text x="227.7" y="109.4" font-size="21" fill="#505050" stroke="#fff" stroke-width="0.3" textLength="12.3" lengthAdjust="spacingAndGlyphs">5</text>
<text x="256.4" y="109.4" font-size="21" fill="#505050" stroke="#fff" stroke-width="0.3" textLength="18.1" lengthAdjust="spacingAndGlyphs">m</text>
<rect x="547.0" y="54.5" width="16.0" height="11" fill="#fff"/>
<text x="549.4" y="64.6" font-size="13" font-weight="bold" textLength="11.2" lengthAdjust="spacingAndGlyphs" fill="#000">10</text>
<rect x="557.5" y="73.5" width="25.0" height="11" fill="#fff"/>
<text x="560.3" y="83.6" font-size="13" font-weight="bold" textLength="19.4" lengthAdjust="spacingAndGlyphs" fill="#000">10.5</text>
<rect x="377.0" y="102.5" width="16.0" height="11" fill="#fff"/>
<text x="379.4" y="112.6" font-size="13" font-weight="bold" textLength="11.2" lengthAdjust="spacingAndGlyphs" fill="#000">10</text>
<rect x="490.5" y="114.5" width="25.0" height="11" fill="#fff"/>
<text x="493.3" y="124.6" font-size="13" font-weight="bold" textLength="19.4" lengthAdjust="spacingAndGlyphs" fill="#000">11.5</text>
<rect x="587.0" y="110.5" width="16.0" height="11" fill="#fff"/>
<text x="589.4" y="120.6" font-size="13" font-weight="bold" textLength="11.2" lengthAdjust="spacingAndGlyphs" fill="#000">11</text>
<rect x="312.5" y="129.5" width="19.0" height="11" fill="#fff"/>
<text x="315.1" y="139.6" font-size="13" font-weight="bold" textLength="13.8" lengthAdjust="spacingAndGlyphs" fill="#000">7.5</text>
<rect x="422.5" y="145.5" width="25.0" height="11" fill="#fff"/>
<text x="425.3" y="155.6" font-size="13" font-weight="bold" textLength="19.4" lengthAdjust="spacingAndGlyphs" fill="#000">11.5</text>
<rect x="282.0" y="218.5" width="10.0" height="11" fill="#fff"/>
<text x="284.2" y="228.6" font-size="13" font-weight="bold" textLength="5.6" lengthAdjust="spacingAndGlyphs" fill="#000">8</text>
<rect x="303.0" y="230.5" width="16.0" height="11" fill="#fff"/>
<text x="305.4" y="240.6" font-size="13" font-weight="bold" textLength="11.2" lengthAdjust="spacingAndGlyphs" fill="#000">11</text>
<rect x="362.5" y="232.5" width="25.0" height="11" fill="#fff"/>
<text x="365.3" y="242.6" font-size="13" font-weight="bold" textLength="19.4" lengthAdjust="spacingAndGlyphs" fill="#000">11.5</text>
<rect x="242.5" y="245.5" width="19.0" height="11" fill="#fff"/>
<text x="245.1" y="255.6" font-size="13" font-weight="bold" textLength="13.8" lengthAdjust="spacingAndGlyphs" fill="#000">8.5</text>
<rect x="232.0" y="257.5" width="10.0" height="11" fill="#fff"/>
<text x="234.2" y="267.6" font-size="13" font-weight="bold" textLength="5.6" lengthAdjust="spacingAndGlyphs" fill="#000">9</text>
<rect x="218.5" y="264.5" width="19.0" height="11" fill="#fff"/>
<text x="221.1" y="274.6" font-size="13" font-weight="bold" textLength="13.8" lengthAdjust="spacingAndGlyphs" fill="#000">9.5</text>
<rect x="568.0" y="275.5" width="16.0" height="11" fill="#fff"/>
<text x="570.4" y="285.6" font-size="13" font-weight="bold" textLength="11.2" lengthAdjust="spacingAndGlyphs" fill="#000">12</text>
<rect x="196.0" y="287.5" width="16.0" height="11" fill="#fff"/>
<text x="198.4" y="297.6" font-size="13" font-weight="bold" textLength="11.2" lengthAdjust="spacingAndGlyphs" fill="#000">10</text>
<rect x="362.5" y="295.5" width="25.0" height="11" fill="#fff"/>
<text x="365.3" y="305.6" font-size="13" font-weight="bold" textLength="19.4" lengthAdjust="spacingAndGlyphs" fill="#000">11.5</text>
<rect x="623.5" y="322.5" width="25.0" height="11" fill="#fff"/>
<text x="626.3" y="332.6" font-size="13" font-weight="bold" textLength="19.4" lengthAdjust="spacingAndGlyphs" fill="#000">11.5</text>
<rect x="558.0" y="348.5" width="16.0" height="11" fill="#fff"/>
<text x="560.4" y="358.6" font-size="13" font-weight="bold" textLength="11.2" lengthAdjust="spacingAndGlyphs" fill="#000">12</text>
<rect x="182.5" y="351.5" width="25.0" height="11" fill="#fff"/>
<text x="185.3" y="361.6" font-size="13" font-weight="bold" textLength="19.4" lengthAdjust="spacingAndGlyphs" fill="#000">10.5</text>
<rect x="243.0" y="342.5" width="16.0" height="11" fill="#fff"/>
<text x="245.4" y="352.6" font-size="13" font-weight="bold" textLength="11.2" lengthAdjust="spacingAndGlyphs" fill="#000">11</text>
<rect x="490.0" y="364.5" width="16.0" height="11" fill="#fff"/>
<text x="492.4" y="374.6" font-size="13" font-weight="bold" textLength="11.2" lengthAdjust="spacingAndGlyphs" fill="#000">12</text>
<rect x="309.5" y="402.5" width="25.0" height="11" fill="#fff"/>
<text x="312.3" y="412.6" font-size="13" font-weight="bold" textLength="19.4" lengthAdjust="spacingAndGlyphs" fill="#000">11.5</text>
<rect x="544.0" y="398.5" width="16.0" height="11" fill="#fff"/>
<text x="546.4" y="408.6" font-size="13" font-weight="bold" textLength="11.2" lengthAdjust="spacingAndGlyphs" fill="#000">11</text>
<rect x="450.5" y="456.5" width="25.0" height="11" fill="#fff"/>
<text x="453.3" y="466.6" font-size="13" font-weight="bold" textLength="19.4" lengthAdjust="spacingAndGlyphs" fill="#000">11.5</text>
<rect x="603.5" y="461.5" width="25.0" height="11" fill="#fff"/>
<text x="606.3" y="471.6" font-size="13" font-weight="bold" textLength="19.4" lengthAdjust="spacingAndGlyphs" fill="#000">10.5</text>
<rect x="239.0" y="491.5" width="16.0" height="11" fill="#fff"/>
<text x="241.4" y="501.6" font-size="13" font-weight="bold" textLength="11.2" lengthAdjust="spacingAndGlyphs" fill="#000">11</text>
<rect x="263.5" y="486.5" width="25.0" height="11" fill="#fff"/>
<text x="266.3" y="496.6" font-size="13" font-weight="bold" textLength="19.4" lengthAdjust="spacingAndGlyphs" fill="#000">11.5</text>
<rect x="344.5" y="484.5" width="25.0" height="11" fill="#fff"/>
<text x="347.3" y="494.6" font-size="13" font-weight="bold" textLength="19.4" lengthAdjust="spacingAndGlyphs" fill="#000">10.5</text>
<rect x="416.0" y="481.5" width="16.0" height="11" fill="#fff"/>
<text x="418.4" y="491.6" font-size="13" font-weight="bold" textLength="11.2" lengthAdjust="spacingAndGlyphs" fill="#000">11</text>
<rect x="519.0" y="490.5" width="16.0" height="11" fill="#fff"/>
<text x="521.4" y="500.6" font-size="13" font-weight="bold" textLength="11.2" lengthAdjust="spacingAndGlyphs" fill="#000">11</text>
<rect x="510.5" y="524.5" width="25.0" height="11" fill="#fff"/>
<text x="513.3" y="534.6" font-size="13" font-weight="bold" textLength="19.4" lengthAdjust="spacingAndGlyphs" fill="#000">10.5</text>
<rect x="127.0" y="529.5" width="16.0" height="11" fill="#fff"/>
<text x="129.4" y="539.6" font-size="13" font-weight="bold" textLength="11.2" lengthAdjust="spacingAndGlyphs" fill="#000">11</text>
<rect x="124.5" y="54.5" width="551.5" height="509" fill="none" stroke="#000" stroke-width="2"/>
<path stroke="#000" stroke-width="1.6" fill="none" d="M124.0 563V567.5M194.8 563V567.5M265.5 563V567.5M336.2 563V567.5M407.0 563V567.5M477.8 563V567.5M548.5 563V567.5M619.2 563V567.5M119.5 529.4H124M119.5 444.6H124M119.5 359.8H124M119.5 275.0H124M119.5 190.2H124M119.5 105.4H124"/>
<text x="124.0" y="578.5" font-size="13" font-weight="bold" text-anchor="middle">28.5</text>
<text x="194.8" y="578.5" font-size="13" font-weight="bold" text-anchor="middle">29</text>
<text x="265.5" y="578.5" font-size="13" font-weight="bold" text-anchor="middle">29.5</text>
<text x="336.2" y="578.5" font-size="13" font-weight="bold" text-anchor="middle">30</text>
<text x="407.0" y="578.5" font-size="13" font-weight="bold" text-anchor="middle">30.5</text>
<text x="477.8" y="578.5" font-size="13" font-weight="bold" text-anchor="middle">31</text>
<text x="548.5" y="578.5" font-size="13" font-weight="bold" text-anchor="middle">31.5</text>
<text x="619.2" y="578.5" font-size="13" font-weight="bold" text-anchor="middle">32</text>
<text x="117.5" y="534.1" font-size="13" font-weight="bold" text-anchor="end">43</text>
<text x="117.5" y="449.3" font-size="13" font-weight="bold" text-anchor="end">43.5</text>
<text x="117.5" y="364.5" font-size="13" font-weight="bold" text-anchor="end">44</text>
<text x="117.5" y="279.7" font-size="13" font-weight="bold" text-anchor="end">44.5</text>
<text x="117.5" y="194.9" font-size="13" font-weight="bold" text-anchor="end">45</text>
<text x="117.5" y="110.1" font-size="13" font-weight="bold" text-anchor="end">45.5</text>
<text x="323.5" y="605.5" font-size="21.5" textLength="151.5" lengthAdjust="spacingAndGlyphs" stroke="#fff" stroke-width="0.35" fill="#000">Longitude (East)</text>
<text transform="translate(82,384.5) rotate(-90)" x="0" y="0" font-size="21.5" textLength="148" lengthAdjust="spacingAndGlyphs" stroke="#fff" stroke-width="0.35" fill="#000">Latitude (North)</text>
<text x="24.00" y="41.75" font-size="25" textLength="139.00" lengthAdjust="spacingAndGlyphs" stroke="#fff" stroke-width="0.55" fill="#000">Temperature</text>
<text x="180.00" y="41.75" font-size="25" textLength="102.50" lengthAdjust="spacingAndGlyphs" stroke="#fff" stroke-width="0.55" fill="#000">(Celsius).</text>
<text x="298.75" y="41.75" font-size="25" textLength="47.25" lengthAdjust="spacingAndGlyphs" stroke="#fff" stroke-width="0.55" fill="#000">Date</text>
<text x="362.50" y="41.75" font-size="25" textLength="133.50" lengthAdjust="spacingAndGlyphs" stroke="#fff" stroke-width="0.55" fill="#000">2024.12.27.</text>
<text x="513.75" y="41.75" font-size="25" textLength="50.00" lengthAdjust="spacingAndGlyphs" stroke="#fff" stroke-width="0.55" fill="#000">Time</text>
<text x="578.75" y="41.75" font-size="25" textLength="137.25" lengthAdjust="spacingAndGlyphs" stroke="#fff" stroke-width="0.55" fill="#000">00(h):00(m)</text>
<text x="735.00" y="41.75" font-size="25" textLength="41.00" lengthAdjust="spacingAndGlyphs" stroke="#fff" stroke-width="0.55" fill="#000">GMT</text>
<rect x="709" y="549.98" width="14" height="6.32" fill="#000086"/>
<rect x="709" y="543.95" width="14" height="6.32" fill="#000092"/>
<rect x="709" y="537.93" width="14" height="6.32" fill="#00009f"/>
<rect x="709" y="531.90" width="14" height="6.32" fill="#0000ab"/>
<rect x="709" y="525.88" width="14" height="6.32" fill="#0000b7"/>
<rect x="709" y="519.85" width="14" height="6.32" fill="#0000c4"/>
<rect x="709" y="513.83" width="14" height="6.32" fill="#0000d0"/>
<rect x="709" y="507.80" width="14" height="6.32" fill="#0000dd"/>
<rect x="709" y="501.78" width="14" height="6.32" fill="#0000e9"/>
<rect x="709" y="495.76" width="14" height="6.32" fill="#0000f6"/>
<rect x="709" y="489.73" width="14" height="6.32" fill="#0003ff"/>
<rect x="709" y="483.71" width="14" height="6.32" fill="#0010ff"/>
<rect x="709" y="477.68" width="14" height="6.32" fill="#001cff"/>
<rect x="709" y="471.66" width="14" height="6.32" fill="#0028ff"/>
<rect x="709" y="465.63" width="14" height="6.32" fill="#0035ff"/>
<rect x="709" y="459.61" width="14" height="6.32" fill="#0041ff"/>
<rect x="709" y="453.59" width="14" height="6.32" fill="#004eff"/>
<rect x="709" y="447.56" width="14" height="6.32" fill="#005aff"/>
<rect x="709" y="441.54" width="14" height="6.32" fill="#0067ff"/>
<rect x="709" y="435.51" width="14" height="6.32" fill="#0073ff"/>
<rect x="709" y="429.49" width="14" height="6.32" fill="#0080ff"/>
<rect x="709" y="423.46" width="14" height="6.32" fill="#008cff"/>
<rect x="709" y="417.44" width="14" height="6.32" fill="#0098ff"/>
<rect x="709" y="411.41" width="14" height="6.32" fill="#00a5ff"/>
<rect x="709" y="405.39" width="14" height="6.32" fill="#00b1ff"/>
<rect x="709" y="399.37" width="14" height="6.32" fill="#00beff"/>
<rect x="709" y="393.34" width="14" height="6.32" fill="#00caff"/>
<rect x="709" y="387.32" width="14" height="6.32" fill="#00d7ff"/>
<rect x="709" y="381.29" width="14" height="6.32" fill="#00e3ff"/>
<rect x="709" y="375.27" width="14" height="6.32" fill="#00efff"/>
<rect x="709" y="369.24" width="14" height="6.32" fill="#00fcff"/>
<rect x="709" y="363.22" width="14" height="6.32" fill="#09fff6"/>
<rect x="709" y="357.20" width="14" height="6.32" fill="#16ffe9"/>
<rect x="709" y="351.17" width="14" height="6.32" fill="#22ffdd"/>
<rect x="709" y="345.15" width="14" height="6.32" fill="#2fffd0"/>
<rect x="709" y="339.12" width="14" height="6.32" fill="#3bffc4"/>
<rect x="709" y="333.10" width="14" height="6.32" fill="#48ffb7"/>
<rect x="709" y="327.07" width="14" height="6.32" fill="#54ffab"/>
<rect x="709" y="321.05" width="14" height="6.32" fill="#60ff9f"/>
<rect x="709" y="315.02" width="14" height="6.32" fill="#6dff92"/>
<rect x="709" y="309.00" width="14" height="6.32" fill="#79ff86"/>
<rect x="709" y="302.98" width="14" height="6.32" fill="#86ff79"/>
<rect x="709" y="296.95" width="14" height="6.32" fill="#92ff6d"/>
<rect x="709" y="290.93" width="14" height="6.32" fill="#9fff60"/>
<rect x="709" y="284.90" width="14" height="6.32" fill="#abff54"/>
<rect x="709" y="278.88" width="14" height="6.32" fill="#b7ff48"/>
<rect x="709" y="272.85" width="14" height="6.32" fill="#c4ff3b"/>
<rect x="709" y="266.83" width="14" height="6.32" fill="#d0ff2f"/>
<rect x="709" y="260.80" width="14" height="6.32" fill="#ddff22"/>
<rect x="709" y="254.78" width="14" height="6.32" fill="#e9ff16"/>
<rect x="709" y="248.76" width="14" height="6.32" fill="#f6ff09"/>
<rect x="709" y="242.73" width="14" height="6.32" fill="#fffc00"/>
<rect x="709" y="236.71" width="14" height="6.32" fill="#ffef00"/>
<rect x="709" y="230.68" width="14" height="6.32" fill="#ffe300"/>
<rect x="709" y="224.66" width="14" height="6.32" fill="#ffd700"/>
<rect x="709" y="218.63" width="14" height="6.32" fill="#ffca00"/>
<rect x="709" y="212.61" width="14" height="6.32" fill="#ffbe00"/>
<rect x="709" y="206.59" width="14" height="6.32" fill="#ffb100"/>
<rect x="709" y="200.56" width="14" height="6.32" fill="#ffa500"/>
<rect x="709" y="194.54" width="14" height="6.32" fill="#ff9800"/>
<rect x="709" y="188.51" width="14" height="6.32" fill="#ff8c00"/>
<rect x="709" y="182.49" width="14" height="6.32" fill="#ff8000"/>
<rect x="709" y="176.46" width="14" height="6.32" fill="#ff7300"/>
<rect x="709" y="170.44" width="14" height="6.32" fill="#ff6700"/>
<rect x="709" y="164.41" width="14" height="6.32" fill="#ff5a00"/>
<rect x="709" y="158.39" width="14" height="6.32" fill="#ff4e00"/>
<rect x="709" y="152.37" width="14" height="6.32" fill="#ff4100"/>
<rect x="709" y="146.34" width="14" height="6.32" fill="#ff3500"/>
<rect x="709" y="140.32" width="14" height="6.32" fill="#ff2800"/>
<rect x="709" y="134.29" width="14" height="6.32" fill="#ff1c00"/>
<rect x="709" y="128.27" width="14" height="6.32" fill="#ff1000"/>
<rect x="709" y="122.24" width="14" height="6.32" fill="#ff0300"/>
<rect x="709" y="116.22" width="14" height="6.32" fill="#f60000"/>
<rect x="709" y="110.20" width="14" height="6.32" fill="#e90000"/>
<rect x="709" y="104.17" width="14" height="6.32" fill="#dd0000"/>
<rect x="709" y="98.15" width="14" height="6.32" fill="#d00000"/>
<rect x="709" y="92.12" width="14" height="6.32" fill="#c40000"/>
<rect x="709" y="86.10" width="14" height="6.32" fill="#b70000"/>
<rect x="709" y="80.07" width="14" height="6.32" fill="#ab0000"/>
<rect x="709" y="74.05" width="14" height="6.32" fill="#9f0000"/>
<rect x="709" y="68.02" width="14" height="6.32" fill="#920000"/>
<rect x="709" y="62.00" width="14" height="6.32" fill="#860000"/>
<text x="735" y="555.7" font-size="14.5">6.28</text>
<text x="735" y="435.7" font-size="14.5">7.78</text>
<text x="735" y="312.2" font-size="14.5">9.27</text>
<text x="735" y="188.7" font-size="14.5">10.7</text>
<text x="735" y="73.3" font-size="14.5">12.1</text>
</svg></body></html>
